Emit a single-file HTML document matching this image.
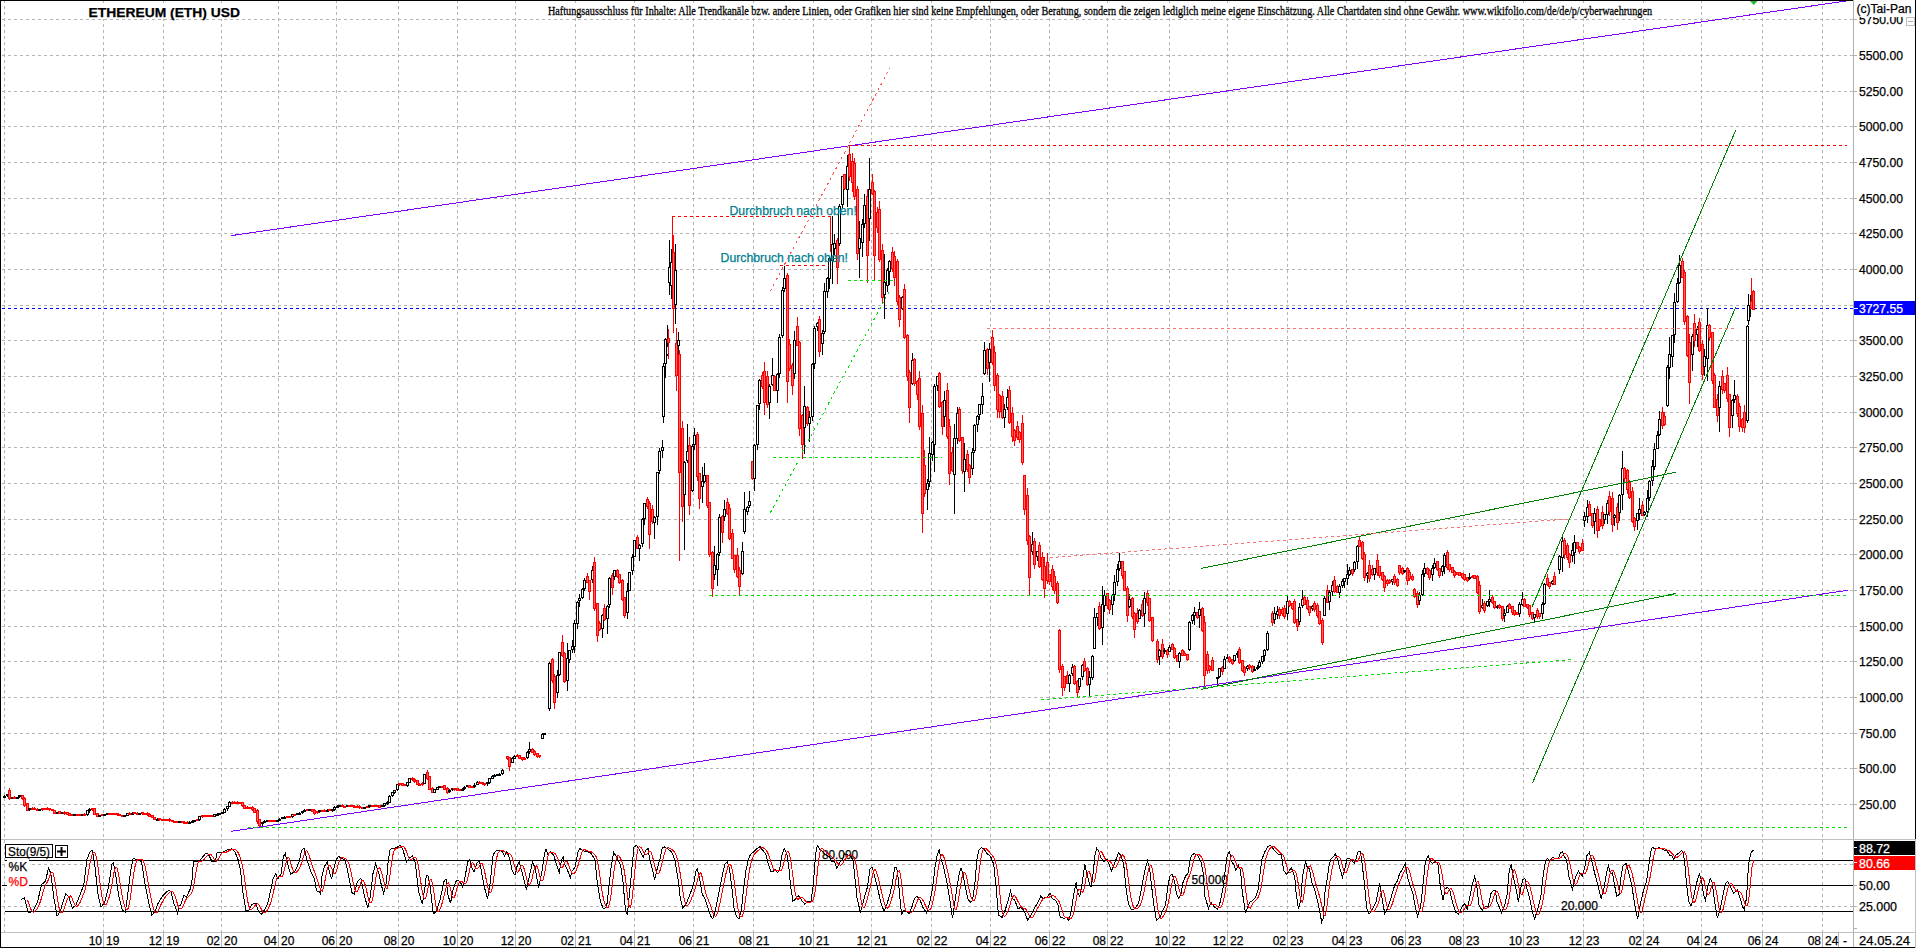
<!DOCTYPE html><html><head><meta charset="utf-8"><title>ETHEREUM (ETH) USD</title><style>html,body{margin:0;padding:0;background:#fff;overflow:hidden}svg{display:block}</style></head><body><svg width="1916" height="948" viewBox="0 0 1916 948"><g shape-rendering="crispEdges"><path d="M2 19.5 H1853M2 55.5 H1853M2 91.5 H1853M2 126.5 H1853M2 162.5 H1853M2 198.5 H1853M2 233.5 H1853M2 269.5 H1853M2 305.5 H1853M2 340.5 H1853M2 376.5 H1853M2 412.5 H1853M2 447.5 H1853M2 483.5 H1853M2 519.5 H1853M2 554.5 H1853M2 590.5 H1853M2 626.5 H1853M2 661.5 H1853M2 697.5 H1853M2 733.5 H1853M2 768.5 H1853M2 804.5 H1853M2 864.5 H1853M2 906.5 H1853" stroke="#b4b4b4" stroke-dasharray="3 3" fill="none"/><path d="M4.5 0 V932M103.5 0 V932M163.5 0 V932M221.5 0 V932M278.5 0 V932M336.5 0 V932M398.5 0 V932M457.5 0 V932M515.5 0 V932M575.5 0 V932M634.5 0 V932M693.5 0 V932M753.5 0 V932M813.5 0 V932M871.5 0 V932M931.5 0 V932M990.5 0 V932M1049.5 0 V932M1107.5 0 V932M1169.5 0 V932M1227.5 0 V932M1287.5 0 V932M1346.5 0 V932M1405.5 0 V932M1463.5 0 V932M1523.5 0 V932M1583.5 0 V932M1643.5 0 V932M1701.5 0 V932M1762.5 0 V932M1822.5 0 V932" stroke="#b4b4b4" stroke-dasharray="3 3" fill="none"/></g>
<path d="M2 308.5H1853" stroke="#00f" stroke-dasharray="3 3" fill="none" shape-rendering="crispEdges"/>
<g shape-rendering="crispEdges" stroke-width="1"><path d="M4.5 795V797" stroke="#000"/><rect x="3.5" y="796.5" width="2" height="1" fill="#fff" stroke="#000"/><path d="M7.5 794V797" stroke="#000"/><rect x="6.5" y="794.5" width="2" height="1" fill="#fff" stroke="#000"/><path d="M9.5 788V800" stroke="#f00"/><rect x="8.5" y="790.5" width="2" height="8" fill="#ff6464" stroke="#f00"/><path d="M12.5 797V799" stroke="#000"/><rect x="11.5" y="797.5" width="2" height="1" fill="#fff" stroke="#000"/><path d="M14.5 796V799" stroke="#f00"/><rect x="13.5" y="797.5" width="2" height="1" fill="#ff6464" stroke="#f00"/><path d="M17.5 797V799" stroke="#000"/><rect x="16.5" y="797.5" width="2" height="1" fill="#fff" stroke="#000"/><path d="M19.5 795V798" stroke="#000"/><rect x="18.5" y="795.5" width="2" height="1" fill="#fff" stroke="#000"/><path d="M22.5 795V800" stroke="#f00"/><rect x="21.5" y="795.5" width="2" height="3" fill="#ff6464" stroke="#f00"/><path d="M24.5 797V807" stroke="#f00"/><rect x="23.5" y="798.5" width="2" height="7" fill="#ff6464" stroke="#f00"/><path d="M27.5 803V811" stroke="#f00"/><rect x="26.5" y="803.5" width="2" height="7" fill="#ff6464" stroke="#f00"/><path d="M29.5 808V811" stroke="#000"/><rect x="28.5" y="808.5" width="2" height="1" fill="#fff" stroke="#000"/><path d="M32.5 807V810" stroke="#f00"/><rect x="31.5" y="808.5" width="2" height="1" fill="#ff6464" stroke="#f00"/><path d="M34.5 807V810" stroke="#f00"/><rect x="33.5" y="808.5" width="2" height="1" fill="#ff6464" stroke="#f00"/><path d="M37.5 808V811" stroke="#f00"/><rect x="36.5" y="809.5" width="2" height="1" fill="#ff6464" stroke="#f00"/><path d="M39.5 809V811" stroke="#000"/><rect x="38.5" y="809.5" width="2" height="1" fill="#fff" stroke="#000"/><path d="M42.5 808V811" stroke="#f00"/><rect x="41.5" y="808.5" width="2" height="1" fill="#ff6464" stroke="#f00"/><path d="M44.5 808V810" stroke="#f00"/><rect x="43.5" y="808.5" width="2" height="1" fill="#ff6464" stroke="#f00"/><path d="M47.5 807V810" stroke="#f00"/><rect x="46.5" y="808.5" width="2" height="1" fill="#ff6464" stroke="#f00"/><path d="M49.5 808V811" stroke="#f00"/><rect x="48.5" y="808.5" width="2" height="1" fill="#ff6464" stroke="#f00"/><path d="M52.5 809V811" stroke="#f00"/><rect x="51.5" y="809.5" width="2" height="1" fill="#ff6464" stroke="#f00"/><path d="M54.5 810V814" stroke="#f00"/><rect x="53.5" y="810.5" width="2" height="3" fill="#ff6464" stroke="#f00"/><path d="M57.5 812V814" stroke="#000"/><rect x="56.5" y="812.5" width="2" height="1" fill="#fff" stroke="#000"/><path d="M59.5 811V814" stroke="#f00"/><rect x="58.5" y="811.5" width="2" height="2" fill="#ff6464" stroke="#f00"/><path d="M62.5 812V814" stroke="#000"/><rect x="61.5" y="812.5" width="2" height="1" fill="#fff" stroke="#000"/><path d="M64.5 811V815" stroke="#f00"/><rect x="63.5" y="812.5" width="2" height="1" fill="#ff6464" stroke="#f00"/><path d="M67.5 812V815" stroke="#f00"/><rect x="66.5" y="812.5" width="2" height="2" fill="#ff6464" stroke="#f00"/><path d="M69.5 813V816" stroke="#f00"/><rect x="68.5" y="813.5" width="2" height="2" fill="#ff6464" stroke="#f00"/><path d="M72.5 814V816" stroke="#f00"/><rect x="71.5" y="814.5" width="2" height="1" fill="#ff6464" stroke="#f00"/><path d="M74.5 814V816" stroke="#000"/><rect x="73.5" y="814.5" width="2" height="1" fill="#fff" stroke="#000"/><path d="M77.5 814V816" stroke="#f00"/><rect x="76.5" y="814.5" width="2" height="1" fill="#ff6464" stroke="#f00"/><path d="M79.5 814V816" stroke="#f00"/><rect x="78.5" y="814.5" width="2" height="1" fill="#ff6464" stroke="#f00"/><path d="M82.5 814V816" stroke="#000"/><rect x="81.5" y="814.5" width="2" height="1" fill="#fff" stroke="#000"/><path d="M84.5 813V816" stroke="#f00"/><rect x="83.5" y="814.5" width="2" height="1" fill="#ff6464" stroke="#f00"/><path d="M87.5 810V816" stroke="#000"/><rect x="86.5" y="810.5" width="2" height="4" fill="#fff" stroke="#000"/><path d="M89.5 808V813" stroke="#000"/><rect x="88.5" y="809.5" width="2" height="1" fill="#fff" stroke="#000"/><path d="M92.5 808V811" stroke="#f00"/><rect x="91.5" y="808.5" width="2" height="1" fill="#ff6464" stroke="#f00"/><path d="M94.5 808V815" stroke="#f00"/><rect x="93.5" y="808.5" width="2" height="6" fill="#ff6464" stroke="#f00"/><path d="M97.5 813V817" stroke="#f00"/><rect x="96.5" y="813.5" width="2" height="3" fill="#ff6464" stroke="#f00"/><path d="M99.5 815V817" stroke="#000"/><rect x="98.5" y="815.5" width="2" height="1" fill="#fff" stroke="#000"/><path d="M102.5 814V816" stroke="#f00"/><rect x="101.5" y="814.5" width="2" height="1" fill="#ff6464" stroke="#f00"/><path d="M104.5 814V816" stroke="#000"/><rect x="103.5" y="814.5" width="2" height="1" fill="#fff" stroke="#000"/><path d="M107.5 813V815" stroke="#000"/><rect x="106.5" y="813.5" width="2" height="1" fill="#fff" stroke="#000"/><path d="M109.5 813V814" stroke="#f00"/><rect x="108.5" y="813.5" width="2" height="1" fill="#ff6464" stroke="#f00"/><path d="M112.5 813V814" stroke="#f00"/><rect x="111.5" y="813.5" width="2" height="1" fill="#ff6464" stroke="#f00"/><path d="M114.5 813V815" stroke="#f00"/><rect x="113.5" y="813.5" width="2" height="1" fill="#ff6464" stroke="#f00"/><path d="M117.5 813V816" stroke="#f00"/><rect x="116.5" y="813.5" width="2" height="1" fill="#ff6464" stroke="#f00"/><path d="M119.5 814V816" stroke="#f00"/><rect x="118.5" y="814.5" width="2" height="1" fill="#ff6464" stroke="#f00"/><path d="M122.5 815V817" stroke="#f00"/><rect x="121.5" y="815.5" width="2" height="1" fill="#ff6464" stroke="#f00"/><path d="M124.5 815V817" stroke="#000"/><rect x="123.5" y="815.5" width="2" height="1" fill="#fff" stroke="#000"/><path d="M127.5 813V816" stroke="#000"/><rect x="126.5" y="813.5" width="2" height="2" fill="#fff" stroke="#000"/><path d="M129.5 812V815" stroke="#f00"/><rect x="128.5" y="813.5" width="2" height="1" fill="#ff6464" stroke="#f00"/><path d="M132.5 812V814" stroke="#000"/><rect x="131.5" y="813.5" width="2" height="1" fill="#fff" stroke="#000"/><path d="M134.5 812V814" stroke="#f00"/><rect x="133.5" y="812.5" width="2" height="1" fill="#ff6464" stroke="#f00"/><path d="M137.5 812V815" stroke="#f00"/><rect x="136.5" y="813.5" width="2" height="1" fill="#ff6464" stroke="#f00"/><path d="M139.5 813V814" stroke="#000"/><rect x="138.5" y="813.5" width="2" height="1" fill="#fff" stroke="#000"/><path d="M142.5 812V815" stroke="#f00"/><rect x="141.5" y="812.5" width="2" height="1" fill="#ff6464" stroke="#f00"/><path d="M144.5 813V815" stroke="#f00"/><rect x="143.5" y="813.5" width="2" height="1" fill="#ff6464" stroke="#f00"/><path d="M147.5 812V816" stroke="#f00"/><rect x="146.5" y="813.5" width="2" height="1" fill="#ff6464" stroke="#f00"/><path d="M149.5 813V817" stroke="#f00"/><rect x="148.5" y="814.5" width="2" height="2" fill="#ff6464" stroke="#f00"/><path d="M152.5 815V818" stroke="#f00"/><rect x="151.5" y="815.5" width="2" height="2" fill="#ff6464" stroke="#f00"/><path d="M154.5 817V820" stroke="#f00"/><rect x="153.5" y="817.5" width="2" height="2" fill="#ff6464" stroke="#f00"/><path d="M157.5 818V820" stroke="#000"/><rect x="156.5" y="819.5" width="2" height="1" fill="#fff" stroke="#000"/><path d="M159.5 818V821" stroke="#f00"/><rect x="158.5" y="818.5" width="2" height="1" fill="#ff6464" stroke="#f00"/><path d="M162.5 819V820" stroke="#f00"/><rect x="161.5" y="819.5" width="2" height="1" fill="#ff6464" stroke="#f00"/><path d="M164.5 819V820" stroke="#f00"/><rect x="163.5" y="819.5" width="2" height="1" fill="#ff6464" stroke="#f00"/><path d="M167.5 819V821" stroke="#f00"/><rect x="166.5" y="819.5" width="2" height="1" fill="#ff6464" stroke="#f00"/><path d="M169.5 818V822" stroke="#f00"/><rect x="168.5" y="819.5" width="2" height="1" fill="#ff6464" stroke="#f00"/><path d="M172.5 820V822" stroke="#f00"/><rect x="171.5" y="820.5" width="2" height="1" fill="#ff6464" stroke="#f00"/><path d="M174.5 821V823" stroke="#f00"/><rect x="173.5" y="821.5" width="2" height="1" fill="#ff6464" stroke="#f00"/><path d="M177.5 821V823" stroke="#f00"/><rect x="176.5" y="821.5" width="2" height="1" fill="#ff6464" stroke="#f00"/><path d="M179.5 821V823" stroke="#000"/><rect x="178.5" y="821.5" width="2" height="1" fill="#fff" stroke="#000"/><path d="M182.5 821V823" stroke="#f00"/><rect x="181.5" y="821.5" width="2" height="1" fill="#ff6464" stroke="#f00"/><path d="M184.5 821V823" stroke="#f00"/><rect x="183.5" y="822.5" width="2" height="1" fill="#ff6464" stroke="#f00"/><path d="M187.5 821V824" stroke="#f00"/><rect x="186.5" y="822.5" width="2" height="1" fill="#ff6464" stroke="#f00"/><path d="M189.5 821V823" stroke="#000"/><rect x="188.5" y="822.5" width="2" height="1" fill="#fff" stroke="#000"/><path d="M192.5 820V823" stroke="#000"/><rect x="191.5" y="821.5" width="2" height="1" fill="#fff" stroke="#000"/><path d="M194.5 820V822" stroke="#000"/><rect x="193.5" y="820.5" width="2" height="1" fill="#fff" stroke="#000"/><path d="M197.5 819V821" stroke="#f00"/><rect x="196.5" y="819.5" width="2" height="1" fill="#ff6464" stroke="#f00"/><path d="M199.5 816V821" stroke="#000"/><rect x="198.5" y="816.5" width="2" height="3" fill="#fff" stroke="#000"/><path d="M202.5 815V818" stroke="#f00"/><rect x="201.5" y="815.5" width="2" height="1" fill="#ff6464" stroke="#f00"/><path d="M204.5 815V817" stroke="#f00"/><rect x="203.5" y="815.5" width="2" height="1" fill="#ff6464" stroke="#f00"/><path d="M207.5 815V817" stroke="#f00"/><rect x="206.5" y="815.5" width="2" height="1" fill="#ff6464" stroke="#f00"/><path d="M209.5 815V817" stroke="#f00"/><rect x="208.5" y="815.5" width="2" height="1" fill="#ff6464" stroke="#f00"/><path d="M212.5 815V817" stroke="#f00"/><rect x="211.5" y="815.5" width="2" height="1" fill="#ff6464" stroke="#f00"/><path d="M214.5 814V817" stroke="#000"/><rect x="213.5" y="814.5" width="2" height="2" fill="#fff" stroke="#000"/><path d="M217.5 813V816" stroke="#000"/><rect x="216.5" y="814.5" width="2" height="1" fill="#fff" stroke="#000"/><path d="M219.5 813V815" stroke="#000"/><rect x="218.5" y="813.5" width="2" height="1" fill="#fff" stroke="#000"/><path d="M222.5 812V814" stroke="#000"/><rect x="221.5" y="812.5" width="2" height="1" fill="#fff" stroke="#000"/><path d="M224.5 808V813" stroke="#000"/><rect x="223.5" y="809.5" width="2" height="3" fill="#fff" stroke="#000"/><path d="M227.5 806V811" stroke="#000"/><rect x="226.5" y="806.5" width="2" height="2" fill="#fff" stroke="#000"/><path d="M229.5 801V807" stroke="#000"/><rect x="228.5" y="802.5" width="2" height="4" fill="#fff" stroke="#000"/><path d="M232.5 801V804" stroke="#f00"/><rect x="231.5" y="802.5" width="2" height="1" fill="#ff6464" stroke="#f00"/><path d="M234.5 801V803" stroke="#f00"/><rect x="233.5" y="802.5" width="2" height="1" fill="#ff6464" stroke="#f00"/><path d="M237.5 801V804" stroke="#f00"/><rect x="236.5" y="802.5" width="2" height="1" fill="#ff6464" stroke="#f00"/><path d="M239.5 802V804" stroke="#f00"/><rect x="238.5" y="802.5" width="2" height="1" fill="#ff6464" stroke="#f00"/><path d="M242.5 802V807" stroke="#f00"/><rect x="241.5" y="802.5" width="2" height="3" fill="#ff6464" stroke="#f00"/><path d="M244.5 805V809" stroke="#f00"/><rect x="243.5" y="805.5" width="2" height="3" fill="#ff6464" stroke="#f00"/><path d="M247.5 806V809" stroke="#f00"/><rect x="246.5" y="807.5" width="2" height="1" fill="#ff6464" stroke="#f00"/><path d="M249.5 807V809" stroke="#f00"/><rect x="248.5" y="807.5" width="2" height="1" fill="#ff6464" stroke="#f00"/><path d="M252.5 806V811" stroke="#f00"/><rect x="251.5" y="807.5" width="2" height="2" fill="#ff6464" stroke="#f00"/><path d="M254.5 808V813" stroke="#f00"/><rect x="253.5" y="808.5" width="2" height="4" fill="#ff6464" stroke="#f00"/><path d="M257.5 809V824" stroke="#f00"/><rect x="256.5" y="810.5" width="2" height="11" fill="#ff6464" stroke="#f00"/><path d="M259.5 819V827" stroke="#f00"/><rect x="258.5" y="819.5" width="2" height="6" fill="#ff6464" stroke="#f00"/><path d="M262.5 822V826" stroke="#000"/><rect x="261.5" y="822.5" width="2" height="1" fill="#fff" stroke="#000"/><path d="M264.5 820V823" stroke="#000"/><rect x="263.5" y="821.5" width="2" height="1" fill="#fff" stroke="#000"/><path d="M267.5 820V822" stroke="#000"/><rect x="266.5" y="820.5" width="2" height="1" fill="#fff" stroke="#000"/><path d="M269.5 820V822" stroke="#f00"/><rect x="268.5" y="820.5" width="2" height="1" fill="#ff6464" stroke="#f00"/><path d="M272.5 820V822" stroke="#f00"/><rect x="271.5" y="820.5" width="2" height="1" fill="#ff6464" stroke="#f00"/><path d="M274.5 820V822" stroke="#f00"/><rect x="273.5" y="820.5" width="2" height="1" fill="#ff6464" stroke="#f00"/><path d="M277.5 820V822" stroke="#000"/><rect x="276.5" y="820.5" width="2" height="1" fill="#fff" stroke="#000"/><path d="M279.5 818V821" stroke="#000"/><rect x="278.5" y="819.5" width="2" height="1" fill="#fff" stroke="#000"/><path d="M282.5 817V819" stroke="#000"/><rect x="281.5" y="817.5" width="2" height="1" fill="#fff" stroke="#000"/><path d="M284.5 816V818" stroke="#000"/><rect x="283.5" y="817.5" width="2" height="1" fill="#fff" stroke="#000"/><path d="M287.5 816V818" stroke="#f00"/><rect x="286.5" y="816.5" width="2" height="1" fill="#ff6464" stroke="#f00"/><path d="M289.5 816V818" stroke="#f00"/><rect x="288.5" y="816.5" width="2" height="1" fill="#ff6464" stroke="#f00"/><path d="M292.5 814V818" stroke="#000"/><rect x="291.5" y="814.5" width="2" height="2" fill="#fff" stroke="#000"/><path d="M294.5 814V816" stroke="#f00"/><rect x="293.5" y="814.5" width="2" height="1" fill="#ff6464" stroke="#f00"/><path d="M297.5 813V815" stroke="#000"/><rect x="296.5" y="813.5" width="2" height="1" fill="#fff" stroke="#000"/><path d="M299.5 812V814" stroke="#000"/><rect x="298.5" y="813.5" width="2" height="1" fill="#fff" stroke="#000"/><path d="M302.5 811V814" stroke="#000"/><rect x="301.5" y="811.5" width="2" height="1" fill="#fff" stroke="#000"/><path d="M304.5 809V812" stroke="#000"/><rect x="303.5" y="810.5" width="2" height="1" fill="#fff" stroke="#000"/><path d="M307.5 809V811" stroke="#f00"/><rect x="306.5" y="809.5" width="2" height="1" fill="#ff6464" stroke="#f00"/><path d="M309.5 809V811" stroke="#000"/><rect x="308.5" y="809.5" width="2" height="1" fill="#fff" stroke="#000"/><path d="M312.5 809V812" stroke="#f00"/><rect x="311.5" y="809.5" width="2" height="2" fill="#ff6464" stroke="#f00"/><path d="M314.5 809V815" stroke="#f00"/><rect x="313.5" y="810.5" width="2" height="3" fill="#ff6464" stroke="#f00"/><path d="M317.5 811V814" stroke="#f00"/><rect x="316.5" y="811.5" width="2" height="1" fill="#ff6464" stroke="#f00"/><path d="M319.5 810V813" stroke="#000"/><rect x="318.5" y="810.5" width="2" height="1" fill="#fff" stroke="#000"/><path d="M322.5 810V812" stroke="#f00"/><rect x="321.5" y="810.5" width="2" height="1" fill="#ff6464" stroke="#f00"/><path d="M324.5 809V812" stroke="#f00"/><rect x="323.5" y="810.5" width="2" height="1" fill="#ff6464" stroke="#f00"/><path d="M327.5 809V812" stroke="#000"/><rect x="326.5" y="810.5" width="2" height="1" fill="#fff" stroke="#000"/><path d="M329.5 809V811" stroke="#f00"/><rect x="328.5" y="809.5" width="2" height="1" fill="#ff6464" stroke="#f00"/><path d="M332.5 809V812" stroke="#000"/><rect x="331.5" y="809.5" width="2" height="1" fill="#fff" stroke="#000"/><path d="M334.5 806V811" stroke="#000"/><rect x="333.5" y="807.5" width="2" height="2" fill="#fff" stroke="#000"/><path d="M337.5 805V808" stroke="#000"/><rect x="336.5" y="806.5" width="2" height="1" fill="#fff" stroke="#000"/><path d="M339.5 805V807" stroke="#000"/><rect x="338.5" y="805.5" width="2" height="1" fill="#fff" stroke="#000"/><path d="M342.5 804V807" stroke="#f00"/><rect x="341.5" y="805.5" width="2" height="1" fill="#ff6464" stroke="#f00"/><path d="M344.5 806V807" stroke="#f00"/><rect x="343.5" y="806.5" width="2" height="1" fill="#ff6464" stroke="#f00"/><path d="M347.5 805V807" stroke="#000"/><rect x="346.5" y="805.5" width="2" height="1" fill="#fff" stroke="#000"/><path d="M349.5 805V807" stroke="#f00"/><rect x="348.5" y="805.5" width="2" height="1" fill="#ff6464" stroke="#f00"/><path d="M352.5 805V807" stroke="#f00"/><rect x="351.5" y="805.5" width="2" height="1" fill="#ff6464" stroke="#f00"/><path d="M354.5 805V807" stroke="#f00"/><rect x="353.5" y="806.5" width="2" height="1" fill="#ff6464" stroke="#f00"/><path d="M357.5 805V808" stroke="#f00"/><rect x="356.5" y="806.5" width="2" height="1" fill="#ff6464" stroke="#f00"/><path d="M359.5 805V809" stroke="#f00"/><rect x="358.5" y="806.5" width="2" height="1" fill="#ff6464" stroke="#f00"/><path d="M362.5 807V809" stroke="#f00"/><rect x="361.5" y="807.5" width="2" height="1" fill="#ff6464" stroke="#f00"/><path d="M364.5 807V809" stroke="#000"/><rect x="363.5" y="807.5" width="2" height="1" fill="#fff" stroke="#000"/><path d="M367.5 806V808" stroke="#f00"/><rect x="366.5" y="806.5" width="2" height="1" fill="#ff6464" stroke="#f00"/><path d="M369.5 805V808" stroke="#000"/><rect x="368.5" y="805.5" width="2" height="1" fill="#fff" stroke="#000"/><path d="M372.5 805V807" stroke="#f00"/><rect x="371.5" y="805.5" width="2" height="1" fill="#ff6464" stroke="#f00"/><path d="M374.5 805V807" stroke="#f00"/><rect x="373.5" y="805.5" width="2" height="1" fill="#ff6464" stroke="#f00"/><path d="M377.5 805V807" stroke="#f00"/><rect x="376.5" y="805.5" width="2" height="1" fill="#ff6464" stroke="#f00"/><path d="M379.5 805V808" stroke="#f00"/><rect x="378.5" y="805.5" width="2" height="2" fill="#ff6464" stroke="#f00"/><path d="M382.5 805V807" stroke="#000"/><rect x="381.5" y="805.5" width="2" height="1" fill="#fff" stroke="#000"/><path d="M384.5 803V807" stroke="#000"/><rect x="383.5" y="803.5" width="2" height="2" fill="#fff" stroke="#000"/><path d="M387.5 801V805" stroke="#000"/><rect x="386.5" y="802.5" width="2" height="1" fill="#fff" stroke="#000"/><path d="M389.5 795V803" stroke="#000"/><rect x="388.5" y="796.5" width="2" height="6" fill="#fff" stroke="#000"/><path d="M392.5 792V797" stroke="#000"/><rect x="391.5" y="792.5" width="2" height="3" fill="#fff" stroke="#000"/><path d="M394.5 790V794" stroke="#000"/><rect x="393.5" y="790.5" width="2" height="2" fill="#fff" stroke="#000"/><path d="M397.5 784V791" stroke="#000"/><rect x="396.5" y="784.5" width="2" height="5" fill="#fff" stroke="#000"/><path d="M399.5 783V786" stroke="#f00"/><rect x="398.5" y="783.5" width="2" height="1" fill="#ff6464" stroke="#f00"/><path d="M402.5 783V786" stroke="#f00"/><rect x="401.5" y="783.5" width="2" height="2" fill="#ff6464" stroke="#f00"/><path d="M404.5 784V786" stroke="#f00"/><rect x="403.5" y="784.5" width="2" height="1" fill="#ff6464" stroke="#f00"/><path d="M407.5 782V787" stroke="#000"/><rect x="406.5" y="782.5" width="2" height="3" fill="#fff" stroke="#000"/><path d="M409.5 778V783" stroke="#000"/><rect x="408.5" y="778.5" width="2" height="4" fill="#fff" stroke="#000"/><path d="M412.5 777V781" stroke="#f00"/><rect x="411.5" y="778.5" width="2" height="1" fill="#ff6464" stroke="#f00"/><path d="M414.5 778V783" stroke="#f00"/><rect x="413.5" y="779.5" width="2" height="2" fill="#ff6464" stroke="#f00"/><path d="M417.5 780V785" stroke="#f00"/><rect x="416.5" y="780.5" width="2" height="4" fill="#ff6464" stroke="#f00"/><path d="M419.5 783V786" stroke="#f00"/><rect x="418.5" y="784.5" width="2" height="1" fill="#ff6464" stroke="#f00"/><path d="M422.5 782V786" stroke="#f00"/><rect x="421.5" y="783.5" width="2" height="1" fill="#ff6464" stroke="#f00"/><path d="M424.5 774V784" stroke="#000"/><rect x="423.5" y="774.5" width="2" height="9" fill="#fff" stroke="#000"/><path d="M427.5 770V780" stroke="#f00"/><rect x="426.5" y="772.5" width="2" height="6" fill="#ff6464" stroke="#f00"/><path d="M429.5 776V790" stroke="#f00"/><rect x="428.5" y="776.5" width="2" height="13" fill="#ff6464" stroke="#f00"/><path d="M432.5 787V793" stroke="#f00"/><rect x="431.5" y="788.5" width="2" height="4" fill="#ff6464" stroke="#f00"/><path d="M434.5 789V793" stroke="#000"/><rect x="433.5" y="789.5" width="2" height="3" fill="#fff" stroke="#000"/><path d="M437.5 787V790" stroke="#000"/><rect x="436.5" y="787.5" width="2" height="2" fill="#fff" stroke="#000"/><path d="M439.5 786V788" stroke="#000"/><rect x="438.5" y="786.5" width="2" height="1" fill="#fff" stroke="#000"/><path d="M442.5 786V788" stroke="#f00"/><rect x="441.5" y="786.5" width="2" height="1" fill="#ff6464" stroke="#f00"/><path d="M444.5 785V790" stroke="#f00"/><rect x="443.5" y="785.5" width="2" height="4" fill="#ff6464" stroke="#f00"/><path d="M447.5 787V794" stroke="#f00"/><rect x="446.5" y="788.5" width="2" height="4" fill="#ff6464" stroke="#f00"/><path d="M449.5 789V793" stroke="#000"/><rect x="448.5" y="790.5" width="2" height="1" fill="#fff" stroke="#000"/><path d="M452.5 788V791" stroke="#000"/><rect x="451.5" y="788.5" width="2" height="1" fill="#fff" stroke="#000"/><path d="M454.5 788V791" stroke="#f00"/><rect x="453.5" y="788.5" width="2" height="1" fill="#ff6464" stroke="#f00"/><path d="M457.5 788V791" stroke="#f00"/><rect x="456.5" y="788.5" width="2" height="2" fill="#ff6464" stroke="#f00"/><path d="M459.5 789V791" stroke="#f00"/><rect x="458.5" y="789.5" width="2" height="1" fill="#ff6464" stroke="#f00"/><path d="M462.5 788V791" stroke="#000"/><rect x="461.5" y="789.5" width="2" height="1" fill="#fff" stroke="#000"/><path d="M464.5 786V790" stroke="#000"/><rect x="463.5" y="787.5" width="2" height="1" fill="#fff" stroke="#000"/><path d="M467.5 785V787" stroke="#000"/><rect x="466.5" y="785.5" width="2" height="1" fill="#fff" stroke="#000"/><path d="M469.5 785V788" stroke="#f00"/><rect x="468.5" y="785.5" width="2" height="2" fill="#ff6464" stroke="#f00"/><path d="M472.5 786V788" stroke="#f00"/><rect x="471.5" y="786.5" width="2" height="1" fill="#ff6464" stroke="#f00"/><path d="M474.5 783V788" stroke="#000"/><rect x="473.5" y="785.5" width="2" height="1" fill="#fff" stroke="#000"/><path d="M477.5 781V785" stroke="#000"/><rect x="476.5" y="782.5" width="2" height="2" fill="#fff" stroke="#000"/><path d="M479.5 781V784" stroke="#f00"/><rect x="478.5" y="782.5" width="2" height="1" fill="#ff6464" stroke="#f00"/><path d="M482.5 782V785" stroke="#f00"/><rect x="481.5" y="782.5" width="2" height="1" fill="#ff6464" stroke="#f00"/><path d="M484.5 783V786" stroke="#f00"/><rect x="483.5" y="783.5" width="2" height="1" fill="#ff6464" stroke="#f00"/><path d="M487.5 782V786" stroke="#000"/><rect x="486.5" y="782.5" width="2" height="1" fill="#fff" stroke="#000"/><path d="M489.5 778V784" stroke="#000"/><rect x="488.5" y="778.5" width="2" height="4" fill="#fff" stroke="#000"/><path d="M492.5 775V779" stroke="#000"/><rect x="491.5" y="776.5" width="2" height="2" fill="#fff" stroke="#000"/><path d="M494.5 774V777" stroke="#000"/><rect x="493.5" y="775.5" width="2" height="1" fill="#fff" stroke="#000"/><path d="M497.5 774V776" stroke="#000"/><rect x="496.5" y="774.5" width="2" height="1" fill="#fff" stroke="#000"/><path d="M499.5 773V776" stroke="#000"/><rect x="498.5" y="774.5" width="2" height="1" fill="#fff" stroke="#000"/><path d="M502.5 769V775" stroke="#000"/><rect x="501.5" y="770.5" width="2" height="3" fill="#fff" stroke="#000"/><path d="M507.5 756V760" stroke="#f00"/><rect x="506.5" y="756.5" width="2" height="2" fill="#ff6464" stroke="#f00"/><path d="M509.5 757V771" stroke="#f00"/><rect x="508.5" y="757.5" width="2" height="9" fill="#ff6464" stroke="#f00"/><path d="M512.5 757V763" stroke="#000"/><rect x="511.5" y="758.5" width="2" height="4" fill="#fff" stroke="#000"/><path d="M514.5 755V759" stroke="#000"/><rect x="513.5" y="756.5" width="2" height="2" fill="#fff" stroke="#000"/><path d="M517.5 754V757" stroke="#f00"/><rect x="516.5" y="755.5" width="2" height="1" fill="#ff6464" stroke="#f00"/><path d="M519.5 755V759" stroke="#f00"/><rect x="518.5" y="755.5" width="2" height="3" fill="#ff6464" stroke="#f00"/><path d="M522.5 757V761" stroke="#f00"/><rect x="521.5" y="757.5" width="2" height="2" fill="#ff6464" stroke="#f00"/><path d="M524.5 757V760" stroke="#f00"/><rect x="523.5" y="758.5" width="2" height="1" fill="#ff6464" stroke="#f00"/><path d="M527.5 751V759" stroke="#000"/><rect x="526.5" y="752.5" width="2" height="5" fill="#fff" stroke="#000"/><path d="M529.5 742V754" stroke="#000"/><rect x="528.5" y="749.5" width="2" height="2" fill="#fff" stroke="#000"/><path d="M532.5 748V753" stroke="#f00"/><rect x="531.5" y="749.5" width="2" height="3" fill="#ff6464" stroke="#f00"/><path d="M534.5 750V756" stroke="#f00"/><rect x="533.5" y="751.5" width="2" height="3" fill="#ff6464" stroke="#f00"/><path d="M537.5 753V758" stroke="#f00"/><rect x="536.5" y="753.5" width="2" height="3" fill="#ff6464" stroke="#f00"/><path d="M539.5 755V758" stroke="#f00"/><rect x="538.5" y="755.5" width="2" height="1" fill="#ff6464" stroke="#f00"/><path d="M542.5 733V739" stroke="#000"/><rect x="541.5" y="734.5" width="2" height="4" fill="#fff" stroke="#000"/><path d="M544.5 733V735" stroke="#000"/><rect x="543.5" y="733.5" width="2" height="1" fill="#fff" stroke="#000"/><path d="M549.5 662V711" stroke="#000"/><rect x="548.5" y="663.5" width="2" height="45" fill="#fff" stroke="#000"/><path d="M552.5 658V683" stroke="#f00"/><rect x="551.5" y="659.5" width="2" height="21" fill="#ff6464" stroke="#f00"/><path d="M554.5 674V709" stroke="#f00"/><rect x="553.5" y="676.5" width="2" height="26" fill="#ff6464" stroke="#f00"/><path d="M557.5 670V698" stroke="#000"/><rect x="556.5" y="675.5" width="2" height="17" fill="#fff" stroke="#000"/><path d="M559.5 652V676" stroke="#000"/><rect x="558.5" y="652.5" width="2" height="22" fill="#fff" stroke="#000"/><path d="M562.5 635V657" stroke="#f00"/><rect x="561.5" y="642.5" width="2" height="13" fill="#ff6464" stroke="#f00"/><path d="M564.5 652V683" stroke="#f00"/><rect x="563.5" y="653.5" width="2" height="28" fill="#ff6464" stroke="#f00"/><path d="M567.5 643V691" stroke="#000"/><rect x="566.5" y="658.5" width="2" height="22" fill="#fff" stroke="#000"/><path d="M569.5 650V663" stroke="#000"/><rect x="568.5" y="650.5" width="2" height="9" fill="#fff" stroke="#000"/><path d="M572.5 640V653" stroke="#000"/><rect x="571.5" y="646.5" width="2" height="3" fill="#fff" stroke="#000"/><path d="M574.5 620V653" stroke="#000"/><rect x="573.5" y="623.5" width="2" height="23" fill="#fff" stroke="#000"/><path d="M577.5 601V629" stroke="#000"/><rect x="576.5" y="602.5" width="2" height="21" fill="#fff" stroke="#000"/><path d="M579.5 594V607" stroke="#000"/><rect x="578.5" y="598.5" width="2" height="2" fill="#fff" stroke="#000"/><path d="M582.5 588V599" stroke="#000"/><rect x="581.5" y="589.5" width="2" height="8" fill="#fff" stroke="#000"/><path d="M584.5 578V591" stroke="#000"/><rect x="583.5" y="580.5" width="2" height="8" fill="#fff" stroke="#000"/><path d="M587.5 573V583" stroke="#f00"/><rect x="586.5" y="576.5" width="2" height="6" fill="#ff6464" stroke="#f00"/><path d="M589.5 580V600" stroke="#f00"/><rect x="588.5" y="580.5" width="2" height="11" fill="#ff6464" stroke="#f00"/><path d="M592.5 566V583" stroke="#000"/><rect x="591.5" y="570.5" width="2" height="9" fill="#fff" stroke="#000"/><path d="M594.5 557V611" stroke="#f00"/><rect x="593.5" y="562.5" width="2" height="46" fill="#ff6464" stroke="#f00"/><path d="M597.5 603V642" stroke="#f00"/><rect x="596.5" y="603.5" width="2" height="32" fill="#ff6464" stroke="#f00"/><path d="M599.5 621V631" stroke="#f00"/><rect x="598.5" y="623.5" width="2" height="6" fill="#ff6464" stroke="#f00"/><path d="M602.5 614V638" stroke="#000"/><rect x="601.5" y="615.5" width="2" height="13" fill="#fff" stroke="#000"/><path d="M604.5 604V621" stroke="#f00"/><rect x="603.5" y="608.5" width="2" height="11" fill="#ff6464" stroke="#f00"/><path d="M607.5 605V634" stroke="#000"/><rect x="606.5" y="606.5" width="2" height="12" fill="#fff" stroke="#000"/><path d="M609.5 577V608" stroke="#000"/><rect x="608.5" y="578.5" width="2" height="26" fill="#fff" stroke="#000"/><path d="M612.5 573V595" stroke="#f00"/><rect x="611.5" y="575.5" width="2" height="12" fill="#ff6464" stroke="#f00"/><path d="M614.5 570V580" stroke="#000"/><rect x="613.5" y="570.5" width="2" height="6" fill="#fff" stroke="#000"/><path d="M617.5 569V578" stroke="#f00"/><rect x="616.5" y="570.5" width="2" height="6" fill="#ff6464" stroke="#f00"/><path d="M619.5 574V584" stroke="#f00"/><rect x="618.5" y="574.5" width="2" height="8" fill="#ff6464" stroke="#f00"/><path d="M622.5 579V601" stroke="#f00"/><rect x="621.5" y="580.5" width="2" height="19" fill="#ff6464" stroke="#f00"/><path d="M624.5 597V618" stroke="#f00"/><rect x="623.5" y="597.5" width="2" height="18" fill="#ff6464" stroke="#f00"/><path d="M627.5 583V619" stroke="#000"/><rect x="626.5" y="591.5" width="2" height="21" fill="#fff" stroke="#000"/><path d="M629.5 572V591" stroke="#000"/><rect x="628.5" y="572.5" width="2" height="18" fill="#fff" stroke="#000"/><path d="M632.5 554V575" stroke="#000"/><rect x="631.5" y="557.5" width="2" height="13" fill="#fff" stroke="#000"/><path d="M634.5 540V557" stroke="#000"/><rect x="633.5" y="540.5" width="2" height="16" fill="#fff" stroke="#000"/><path d="M637.5 535V549" stroke="#f00"/><rect x="636.5" y="537.5" width="2" height="11" fill="#ff6464" stroke="#f00"/><path d="M639.5 544V561" stroke="#000"/><rect x="638.5" y="545.5" width="2" height="3" fill="#fff" stroke="#000"/><path d="M642.5 518V547" stroke="#000"/><rect x="641.5" y="519.5" width="2" height="24" fill="#fff" stroke="#000"/><path d="M644.5 503V525" stroke="#000"/><rect x="643.5" y="503.5" width="2" height="15" fill="#fff" stroke="#000"/><path d="M647.5 497V509" stroke="#f00"/><rect x="646.5" y="499.5" width="2" height="7" fill="#ff6464" stroke="#f00"/><path d="M649.5 501V549" stroke="#f00"/><rect x="648.5" y="503.5" width="2" height="31" fill="#ff6464" stroke="#f00"/><path d="M652.5 505V524" stroke="#f00"/><rect x="651.5" y="509.5" width="2" height="12" fill="#ff6464" stroke="#f00"/><path d="M654.5 516V539" stroke="#000"/><rect x="653.5" y="517.5" width="2" height="5" fill="#fff" stroke="#000"/><path d="M657.5 472V525" stroke="#000"/><rect x="656.5" y="472.5" width="2" height="44" fill="#fff" stroke="#000"/><path d="M659.5 448V474" stroke="#000"/><rect x="658.5" y="451.5" width="2" height="19" fill="#fff" stroke="#000"/><path d="M662.5 440V458" stroke="#000"/><rect x="661.5" y="447.5" width="2" height="3" fill="#fff" stroke="#000"/><path d="M663.5 363V423" stroke="#000"/><rect x="662.5" y="366.5" width="2" height="50" fill="#fff" stroke="#000"/><path d="M665.5 338V378" stroke="#000"/><rect x="664.5" y="339.5" width="2" height="24" fill="#fff" stroke="#000"/><path d="M667.5 325V356" stroke="#000"/><rect x="666.5" y="346.5" width="2" height="8" fill="#fff" stroke="#000"/><path d="M668.5 329V359" stroke="#f00"/><rect x="667.5" y="338.5" width="2" height="4" fill="#ff6464" stroke="#f00"/><path d="M669.5 240V295" stroke="#000"/><rect x="668.5" y="267.5" width="2" height="15" fill="#fff" stroke="#000"/><path d="M671.5 249V299" stroke="#000"/><rect x="670.5" y="262.5" width="2" height="23" fill="#fff" stroke="#000"/><path d="M673.5 235V333" stroke="#f00"/><rect x="672.5" y="252.5" width="2" height="56" fill="#ff6464" stroke="#f00"/><path d="M675.5 244V324" stroke="#000"/><rect x="674.5" y="270.5" width="2" height="34" fill="#fff" stroke="#000"/><path d="M676.5 328V391" stroke="#f00"/><rect x="675.5" y="343.5" width="2" height="32" fill="#ff6464" stroke="#f00"/><path d="M678.5 332V354" stroke="#000"/><rect x="677.5" y="340.5" width="2" height="5" fill="#fff" stroke="#000"/><path d="M679.5 350V561" stroke="#f00"/><rect x="678.5" y="354.5" width="2" height="118" fill="#ff6464" stroke="#f00"/><path d="M682.5 421V522" stroke="#f00"/><rect x="681.5" y="428.5" width="2" height="78" fill="#ff6464" stroke="#f00"/><path d="M684.5 461V550" stroke="#000"/><rect x="683.5" y="462.5" width="2" height="32" fill="#fff" stroke="#000"/><path d="M687.5 424V463" stroke="#000"/><rect x="686.5" y="451.5" width="2" height="9" fill="#fff" stroke="#000"/><path d="M689.5 437V515" stroke="#f00"/><rect x="688.5" y="445.5" width="2" height="60" fill="#ff6464" stroke="#f00"/><path d="M692.5 444V492" stroke="#000"/><rect x="691.5" y="446.5" width="2" height="44" fill="#fff" stroke="#000"/><path d="M694.5 428V450" stroke="#000"/><rect x="693.5" y="435.5" width="2" height="9" fill="#fff" stroke="#000"/><path d="M697.5 432V481" stroke="#f00"/><rect x="696.5" y="434.5" width="2" height="42" fill="#ff6464" stroke="#f00"/><path d="M699.5 473V509" stroke="#f00"/><rect x="698.5" y="473.5" width="2" height="25" fill="#ff6464" stroke="#f00"/><path d="M702.5 467V503" stroke="#000"/><rect x="701.5" y="481.5" width="2" height="5" fill="#fff" stroke="#000"/><path d="M704.5 463V483" stroke="#000"/><rect x="703.5" y="475.5" width="2" height="6" fill="#fff" stroke="#000"/><path d="M707.5 475V508" stroke="#f00"/><rect x="706.5" y="475.5" width="2" height="30" fill="#ff6464" stroke="#f00"/><path d="M709.5 502V557" stroke="#f00"/><rect x="708.5" y="502.5" width="2" height="52" fill="#ff6464" stroke="#f00"/><path d="M712.5 551V597" stroke="#f00"/><rect x="711.5" y="552.5" width="2" height="36" fill="#ff6464" stroke="#f00"/><path d="M714.5 546V580" stroke="#000"/><rect x="713.5" y="565.5" width="2" height="9" fill="#fff" stroke="#000"/><path d="M717.5 553V586" stroke="#000"/><rect x="716.5" y="554.5" width="2" height="15" fill="#fff" stroke="#000"/><path d="M719.5 514V556" stroke="#000"/><rect x="718.5" y="517.5" width="2" height="35" fill="#fff" stroke="#000"/><path d="M722.5 515V543" stroke="#f00"/><rect x="721.5" y="516.5" width="2" height="16" fill="#ff6464" stroke="#f00"/><path d="M724.5 500V521" stroke="#000"/><rect x="723.5" y="509.5" width="2" height="7" fill="#fff" stroke="#000"/><path d="M727.5 498V515" stroke="#f00"/><rect x="726.5" y="502.5" width="2" height="11" fill="#ff6464" stroke="#f00"/><path d="M729.5 504V540" stroke="#f00"/><rect x="728.5" y="508.5" width="2" height="30" fill="#ff6464" stroke="#f00"/><path d="M732.5 529V559" stroke="#f00"/><rect x="731.5" y="533.5" width="2" height="25" fill="#ff6464" stroke="#f00"/><path d="M734.5 555V573" stroke="#f00"/><rect x="733.5" y="555.5" width="2" height="14" fill="#ff6464" stroke="#f00"/><path d="M737.5 548V578" stroke="#f00"/><rect x="736.5" y="555.5" width="2" height="21" fill="#ff6464" stroke="#f00"/><path d="M739.5 567V596" stroke="#f00"/><rect x="738.5" y="570.5" width="2" height="16" fill="#ff6464" stroke="#f00"/><path d="M742.5 542V575" stroke="#000"/><rect x="741.5" y="551.5" width="2" height="22" fill="#fff" stroke="#000"/><path d="M744.5 492V534" stroke="#000"/><rect x="743.5" y="509.5" width="2" height="22" fill="#fff" stroke="#000"/><path d="M747.5 506V515" stroke="#000"/><rect x="746.5" y="507.5" width="2" height="4" fill="#fff" stroke="#000"/><path d="M749.5 491V508" stroke="#000"/><rect x="748.5" y="501.5" width="2" height="4" fill="#fff" stroke="#000"/><path d="M752.5 461V480" stroke="#f00"/><rect x="751.5" y="461.5" width="2" height="17" fill="#ff6464" stroke="#f00"/><path d="M754.5 444V491" stroke="#000"/><rect x="753.5" y="445.5" width="2" height="33" fill="#fff" stroke="#000"/><path d="M757.5 405V450" stroke="#000"/><rect x="756.5" y="405.5" width="2" height="39" fill="#fff" stroke="#000"/><path d="M759.5 379V410" stroke="#000"/><rect x="758.5" y="380.5" width="2" height="23" fill="#fff" stroke="#000"/><path d="M762.5 372V389" stroke="#f00"/><rect x="761.5" y="375.5" width="2" height="11" fill="#ff6464" stroke="#f00"/><path d="M764.5 362V415" stroke="#f00"/><rect x="763.5" y="371.5" width="2" height="31" fill="#ff6464" stroke="#f00"/><path d="M767.5 371V408" stroke="#f00"/><rect x="766.5" y="376.5" width="2" height="28" fill="#ff6464" stroke="#f00"/><path d="M769.5 384V419" stroke="#000"/><rect x="768.5" y="386.5" width="2" height="16" fill="#fff" stroke="#000"/><path d="M772.5 358V386" stroke="#000"/><rect x="771.5" y="375.5" width="2" height="9" fill="#fff" stroke="#000"/><path d="M774.5 375V391" stroke="#f00"/><rect x="773.5" y="376.5" width="2" height="14" fill="#ff6464" stroke="#f00"/><path d="M777.5 373V403" stroke="#000"/><rect x="776.5" y="374.5" width="2" height="16" fill="#fff" stroke="#000"/><path d="M779.5 334V378" stroke="#000"/><rect x="778.5" y="337.5" width="2" height="36" fill="#fff" stroke="#000"/><path d="M782.5 287V338" stroke="#000"/><rect x="781.5" y="290.5" width="2" height="45" fill="#fff" stroke="#000"/><path d="M784.5 266V292" stroke="#000"/><rect x="783.5" y="278.5" width="2" height="10" fill="#fff" stroke="#000"/><path d="M787.5 273V403" stroke="#f00"/><rect x="786.5" y="275.5" width="2" height="106" fill="#ff6464" stroke="#f00"/><path d="M789.5 339V371" stroke="#f00"/><rect x="788.5" y="344.5" width="2" height="24" fill="#ff6464" stroke="#f00"/><path d="M792.5 363V395" stroke="#f00"/><rect x="791.5" y="365.5" width="2" height="20" fill="#ff6464" stroke="#f00"/><path d="M794.5 331V379" stroke="#000"/><rect x="793.5" y="340.5" width="2" height="33" fill="#fff" stroke="#000"/><path d="M797.5 317V346" stroke="#f00"/><rect x="796.5" y="326.5" width="2" height="19" fill="#ff6464" stroke="#f00"/><path d="M799.5 341V436" stroke="#f00"/><rect x="798.5" y="342.5" width="2" height="86" fill="#ff6464" stroke="#f00"/><path d="M802.5 414V459" stroke="#f00"/><rect x="801.5" y="415.5" width="2" height="29" fill="#ff6464" stroke="#f00"/><path d="M804.5 386V454" stroke="#000"/><rect x="803.5" y="406.5" width="2" height="21" fill="#fff" stroke="#000"/><path d="M807.5 406V426" stroke="#f00"/><rect x="806.5" y="407.5" width="2" height="16" fill="#ff6464" stroke="#f00"/><path d="M809.5 411V442" stroke="#000"/><rect x="808.5" y="417.5" width="2" height="6" fill="#fff" stroke="#000"/><path d="M812.5 363V421" stroke="#000"/><rect x="811.5" y="364.5" width="2" height="52" fill="#fff" stroke="#000"/><path d="M814.5 326V369" stroke="#000"/><rect x="813.5" y="328.5" width="2" height="35" fill="#fff" stroke="#000"/><path d="M817.5 322V331" stroke="#000"/><rect x="816.5" y="323.5" width="2" height="3" fill="#fff" stroke="#000"/><path d="M819.5 316V357" stroke="#f00"/><rect x="818.5" y="319.5" width="2" height="32" fill="#ff6464" stroke="#f00"/><path d="M822.5 330V355" stroke="#000"/><rect x="821.5" y="333.5" width="2" height="10" fill="#fff" stroke="#000"/><path d="M824.5 283V334" stroke="#000"/><rect x="823.5" y="291.5" width="2" height="40" fill="#fff" stroke="#000"/><path d="M827.5 277V298" stroke="#000"/><rect x="826.5" y="278.5" width="2" height="13" fill="#fff" stroke="#000"/><path d="M829.5 257V289" stroke="#000"/><rect x="828.5" y="258.5" width="2" height="20" fill="#fff" stroke="#000"/><path d="M832.5 216V284" stroke="#000"/><rect x="831.5" y="244.5" width="2" height="16" fill="#fff" stroke="#000"/><path d="M834.5 234V255" stroke="#000"/><rect x="833.5" y="243.5" width="2" height="5" fill="#fff" stroke="#000"/><path d="M837.5 238V284" stroke="#f00"/><rect x="836.5" y="240.5" width="2" height="27" fill="#ff6464" stroke="#f00"/><path d="M839.5 204V246" stroke="#000"/><rect x="838.5" y="206.5" width="2" height="37" fill="#fff" stroke="#000"/><path d="M842.5 176V208" stroke="#000"/><rect x="841.5" y="176.5" width="2" height="28" fill="#fff" stroke="#000"/><path d="M844.5 174V190" stroke="#f00"/><rect x="843.5" y="174.5" width="2" height="14" fill="#ff6464" stroke="#f00"/><path d="M847.5 155V207" stroke="#000"/><rect x="846.5" y="166.5" width="2" height="23" fill="#fff" stroke="#000"/><path d="M849.5 146V181" stroke="#f00"/><rect x="848.5" y="154.5" width="2" height="22" fill="#ff6464" stroke="#f00"/><path d="M852.5 153V192" stroke="#f00"/><rect x="851.5" y="161.5" width="2" height="21" fill="#ff6464" stroke="#f00"/><path d="M854.5 158V200" stroke="#f00"/><rect x="853.5" y="163.5" width="2" height="33" fill="#ff6464" stroke="#f00"/><path d="M857.5 186V260" stroke="#f00"/><rect x="856.5" y="189.5" width="2" height="64" fill="#ff6464" stroke="#f00"/><path d="M859.5 221V278" stroke="#000"/><rect x="858.5" y="238.5" width="2" height="10" fill="#fff" stroke="#000"/><path d="M862.5 219V257" stroke="#000"/><rect x="861.5" y="224.5" width="2" height="18" fill="#fff" stroke="#000"/><path d="M864.5 194V228" stroke="#000"/><rect x="863.5" y="205.5" width="2" height="18" fill="#fff" stroke="#000"/><path d="M867.5 189V283" stroke="#f00"/><rect x="866.5" y="196.5" width="2" height="59" fill="#ff6464" stroke="#f00"/><path d="M869.5 158V241" stroke="#000"/><rect x="868.5" y="189.5" width="2" height="29" fill="#fff" stroke="#000"/><path d="M872.5 174V195" stroke="#f00"/><rect x="871.5" y="182.5" width="2" height="11" fill="#ff6464" stroke="#f00"/><path d="M874.5 190V281" stroke="#f00"/><rect x="873.5" y="191.5" width="2" height="64" fill="#ff6464" stroke="#f00"/><path d="M877.5 207V233" stroke="#f00"/><rect x="876.5" y="212.5" width="2" height="15" fill="#ff6464" stroke="#f00"/><path d="M879.5 201V262" stroke="#f00"/><rect x="878.5" y="209.5" width="2" height="50" fill="#ff6464" stroke="#f00"/><path d="M882.5 244V303" stroke="#f00"/><rect x="881.5" y="250.5" width="2" height="47" fill="#ff6464" stroke="#f00"/><path d="M884.5 254V319" stroke="#000"/><rect x="883.5" y="282.5" width="2" height="12" fill="#fff" stroke="#000"/><path d="M887.5 268V292" stroke="#000"/><rect x="886.5" y="270.5" width="2" height="15" fill="#fff" stroke="#000"/><path d="M889.5 260V285" stroke="#000"/><rect x="888.5" y="261.5" width="2" height="10" fill="#fff" stroke="#000"/><path d="M892.5 247V272" stroke="#f00"/><rect x="891.5" y="252.5" width="2" height="16" fill="#ff6464" stroke="#f00"/><path d="M894.5 251V286" stroke="#f00"/><rect x="893.5" y="256.5" width="2" height="21" fill="#ff6464" stroke="#f00"/><path d="M897.5 259V305" stroke="#f00"/><rect x="896.5" y="261.5" width="2" height="40" fill="#ff6464" stroke="#f00"/><path d="M899.5 295V327" stroke="#f00"/><rect x="898.5" y="297.5" width="2" height="22" fill="#ff6464" stroke="#f00"/><path d="M902.5 296V310" stroke="#000"/><rect x="901.5" y="297.5" width="2" height="11" fill="#fff" stroke="#000"/><path d="M904.5 284V339" stroke="#f00"/><rect x="903.5" y="289.5" width="2" height="48" fill="#ff6464" stroke="#f00"/><path d="M907.5 334V381" stroke="#f00"/><rect x="906.5" y="335.5" width="2" height="41" fill="#ff6464" stroke="#f00"/><path d="M909.5 370V423" stroke="#f00"/><rect x="908.5" y="372.5" width="2" height="35" fill="#ff6464" stroke="#f00"/><path d="M912.5 353V385" stroke="#000"/><rect x="911.5" y="360.5" width="2" height="23" fill="#fff" stroke="#000"/><path d="M914.5 358V386" stroke="#f00"/><rect x="913.5" y="359.5" width="2" height="24" fill="#ff6464" stroke="#f00"/><path d="M917.5 380V400" stroke="#f00"/><rect x="916.5" y="381.5" width="2" height="13" fill="#ff6464" stroke="#f00"/><path d="M919.5 371V430" stroke="#f00"/><rect x="918.5" y="378.5" width="2" height="48" fill="#ff6464" stroke="#f00"/><path d="M922.5 405V533" stroke="#f00"/><rect x="921.5" y="413.5" width="2" height="100" fill="#ff6464" stroke="#f00"/><path d="M924.5 450V497" stroke="#f00"/><rect x="923.5" y="465.5" width="2" height="28" fill="#ff6464" stroke="#f00"/><path d="M927.5 479V510" stroke="#000"/><rect x="926.5" y="483.5" width="2" height="6" fill="#fff" stroke="#000"/><path d="M929.5 437V487" stroke="#000"/><rect x="928.5" y="453.5" width="2" height="28" fill="#fff" stroke="#000"/><path d="M932.5 441V461" stroke="#000"/><rect x="931.5" y="442.5" width="2" height="12" fill="#fff" stroke="#000"/><path d="M934.5 384V472" stroke="#000"/><rect x="933.5" y="386.5" width="2" height="58" fill="#fff" stroke="#000"/><path d="M937.5 376V391" stroke="#000"/><rect x="936.5" y="376.5" width="2" height="9" fill="#fff" stroke="#000"/><path d="M939.5 372V408" stroke="#f00"/><rect x="938.5" y="373.5" width="2" height="33" fill="#ff6464" stroke="#f00"/><path d="M942.5 401V435" stroke="#f00"/><rect x="941.5" y="402.5" width="2" height="24" fill="#ff6464" stroke="#f00"/><path d="M944.5 391V427" stroke="#000"/><rect x="943.5" y="400.5" width="2" height="16" fill="#fff" stroke="#000"/><path d="M947.5 383V439" stroke="#f00"/><rect x="946.5" y="390.5" width="2" height="46" fill="#ff6464" stroke="#f00"/><path d="M949.5 419V485" stroke="#f00"/><rect x="948.5" y="426.5" width="2" height="47" fill="#ff6464" stroke="#f00"/><path d="M952.5 447V472" stroke="#f00"/><rect x="951.5" y="452.5" width="2" height="18" fill="#ff6464" stroke="#f00"/><path d="M954.5 424V514" stroke="#000"/><rect x="953.5" y="438.5" width="2" height="36" fill="#fff" stroke="#000"/><path d="M957.5 407V444" stroke="#000"/><rect x="956.5" y="413.5" width="2" height="25" fill="#fff" stroke="#000"/><path d="M959.5 407V442" stroke="#f00"/><rect x="958.5" y="409.5" width="2" height="31" fill="#ff6464" stroke="#f00"/><path d="M962.5 437V474" stroke="#f00"/><rect x="961.5" y="437.5" width="2" height="33" fill="#ff6464" stroke="#f00"/><path d="M964.5 443V492" stroke="#000"/><rect x="963.5" y="459.5" width="2" height="12" fill="#fff" stroke="#000"/><path d="M967.5 450V472" stroke="#f00"/><rect x="966.5" y="454.5" width="2" height="15" fill="#ff6464" stroke="#f00"/><path d="M969.5 464V484" stroke="#f00"/><rect x="968.5" y="465.5" width="2" height="12" fill="#ff6464" stroke="#f00"/><path d="M972.5 448V475" stroke="#000"/><rect x="971.5" y="452.5" width="2" height="16" fill="#fff" stroke="#000"/><path d="M974.5 424V453" stroke="#000"/><rect x="973.5" y="425.5" width="2" height="25" fill="#fff" stroke="#000"/><path d="M977.5 415V432" stroke="#000"/><rect x="976.5" y="416.5" width="2" height="8" fill="#fff" stroke="#000"/><path d="M979.5 404V420" stroke="#000"/><rect x="978.5" y="404.5" width="2" height="10" fill="#fff" stroke="#000"/><path d="M982.5 383V414" stroke="#000"/><rect x="981.5" y="396.5" width="2" height="8" fill="#fff" stroke="#000"/><path d="M984.5 342V375" stroke="#000"/><rect x="983.5" y="350.5" width="2" height="23" fill="#fff" stroke="#000"/><path d="M987.5 348V375" stroke="#f00"/><rect x="986.5" y="349.5" width="2" height="19" fill="#ff6464" stroke="#f00"/><path d="M989.5 343V382" stroke="#000"/><rect x="988.5" y="349.5" width="2" height="13" fill="#fff" stroke="#000"/><path d="M992.5 330V365" stroke="#f00"/><rect x="991.5" y="337.5" width="2" height="25" fill="#ff6464" stroke="#f00"/><path d="M994.5 346V391" stroke="#f00"/><rect x="993.5" y="352.5" width="2" height="33" fill="#ff6464" stroke="#f00"/><path d="M997.5 373V418" stroke="#f00"/><rect x="996.5" y="375.5" width="2" height="34" fill="#ff6464" stroke="#f00"/><path d="M999.5 394V418" stroke="#f00"/><rect x="998.5" y="395.5" width="2" height="16" fill="#ff6464" stroke="#f00"/><path d="M1002.5 391V419" stroke="#f00"/><rect x="1001.5" y="396.5" width="2" height="21" fill="#ff6464" stroke="#f00"/><path d="M1004.5 404V428" stroke="#000"/><rect x="1003.5" y="409.5" width="2" height="8" fill="#fff" stroke="#000"/><path d="M1007.5 389V410" stroke="#000"/><rect x="1006.5" y="397.5" width="2" height="10" fill="#fff" stroke="#000"/><path d="M1009.5 386V424" stroke="#f00"/><rect x="1008.5" y="390.5" width="2" height="32" fill="#ff6464" stroke="#f00"/><path d="M1012.5 407V442" stroke="#f00"/><rect x="1011.5" y="413.5" width="2" height="23" fill="#ff6464" stroke="#f00"/><path d="M1014.5 429V446" stroke="#f00"/><rect x="1013.5" y="430.5" width="2" height="10" fill="#ff6464" stroke="#f00"/><path d="M1017.5 421V440" stroke="#f00"/><rect x="1016.5" y="426.5" width="2" height="11" fill="#ff6464" stroke="#f00"/><path d="M1019.5 431V443" stroke="#f00"/><rect x="1018.5" y="432.5" width="2" height="7" fill="#ff6464" stroke="#f00"/><path d="M1022.5 415V465" stroke="#f00"/><rect x="1021.5" y="423.5" width="2" height="39" fill="#ff6464" stroke="#f00"/><path d="M1024.5 475V515" stroke="#f00"/><rect x="1023.5" y="475.5" width="2" height="34" fill="#ff6464" stroke="#f00"/><path d="M1027.5 488V545" stroke="#f00"/><rect x="1026.5" y="495.5" width="2" height="45" fill="#ff6464" stroke="#f00"/><path d="M1029.5 535V596" stroke="#f00"/><rect x="1028.5" y="536.5" width="2" height="41" fill="#ff6464" stroke="#f00"/><path d="M1032.5 532V555" stroke="#000"/><rect x="1031.5" y="544.5" width="2" height="7" fill="#fff" stroke="#000"/><path d="M1034.5 538V569" stroke="#f00"/><rect x="1033.5" y="541.5" width="2" height="23" fill="#ff6464" stroke="#f00"/><path d="M1037.5 551V561" stroke="#000"/><rect x="1036.5" y="551.5" width="2" height="5" fill="#fff" stroke="#000"/><path d="M1039.5 542V568" stroke="#f00"/><rect x="1038.5" y="545.5" width="2" height="21" fill="#ff6464" stroke="#f00"/><path d="M1042.5 552V581" stroke="#f00"/><rect x="1041.5" y="557.5" width="2" height="22" fill="#ff6464" stroke="#f00"/><path d="M1044.5 557V598" stroke="#f00"/><rect x="1043.5" y="566.5" width="2" height="22" fill="#ff6464" stroke="#f00"/><path d="M1047.5 553V584" stroke="#f00"/><rect x="1046.5" y="562.5" width="2" height="18" fill="#ff6464" stroke="#f00"/><path d="M1049.5 574V585" stroke="#f00"/><rect x="1048.5" y="574.5" width="2" height="7" fill="#ff6464" stroke="#f00"/><path d="M1052.5 565V590" stroke="#f00"/><rect x="1051.5" y="569.5" width="2" height="17" fill="#ff6464" stroke="#f00"/><path d="M1054.5 571V594" stroke="#f00"/><rect x="1053.5" y="576.5" width="2" height="14" fill="#ff6464" stroke="#f00"/><path d="M1057.5 581V604" stroke="#f00"/><rect x="1056.5" y="583.5" width="2" height="19" fill="#ff6464" stroke="#f00"/><path d="M1059.5 629V673" stroke="#f00"/><rect x="1058.5" y="630.5" width="2" height="39" fill="#ff6464" stroke="#f00"/><path d="M1062.5 664V696" stroke="#f00"/><rect x="1061.5" y="666.5" width="2" height="21" fill="#ff6464" stroke="#f00"/><path d="M1064.5 676V691" stroke="#f00"/><rect x="1063.5" y="676.5" width="2" height="11" fill="#ff6464" stroke="#f00"/><path d="M1067.5 671V684" stroke="#f00"/><rect x="1066.5" y="675.5" width="2" height="8" fill="#ff6464" stroke="#f00"/><path d="M1069.5 674V692" stroke="#000"/><rect x="1068.5" y="675.5" width="2" height="8" fill="#fff" stroke="#000"/><path d="M1072.5 664V676" stroke="#000"/><rect x="1071.5" y="667.5" width="2" height="6" fill="#fff" stroke="#000"/><path d="M1074.5 665V685" stroke="#f00"/><rect x="1073.5" y="666.5" width="2" height="17" fill="#ff6464" stroke="#f00"/><path d="M1077.5 680V697" stroke="#f00"/><rect x="1076.5" y="681.5" width="2" height="11" fill="#ff6464" stroke="#f00"/><path d="M1079.5 678V690" stroke="#000"/><rect x="1078.5" y="678.5" width="2" height="8" fill="#fff" stroke="#000"/><path d="M1082.5 664V680" stroke="#000"/><rect x="1081.5" y="665.5" width="2" height="11" fill="#fff" stroke="#000"/><path d="M1084.5 658V672" stroke="#f00"/><rect x="1083.5" y="661.5" width="2" height="9" fill="#ff6464" stroke="#f00"/><path d="M1087.5 667V686" stroke="#f00"/><rect x="1086.5" y="668.5" width="2" height="16" fill="#ff6464" stroke="#f00"/><path d="M1089.5 671V696" stroke="#000"/><rect x="1088.5" y="677.5" width="2" height="7" fill="#fff" stroke="#000"/><path d="M1092.5 655V680" stroke="#000"/><rect x="1091.5" y="656.5" width="2" height="21" fill="#fff" stroke="#000"/><path d="M1094.5 608V649" stroke="#000"/><rect x="1093.5" y="617.5" width="2" height="31" fill="#fff" stroke="#000"/><path d="M1097.5 613V626" stroke="#000"/><rect x="1096.5" y="613.5" width="2" height="4" fill="#fff" stroke="#000"/><path d="M1099.5 602V630" stroke="#f00"/><rect x="1098.5" y="606.5" width="2" height="22" fill="#ff6464" stroke="#f00"/><path d="M1102.5 586V645" stroke="#000"/><rect x="1101.5" y="604.5" width="2" height="23" fill="#fff" stroke="#000"/><path d="M1104.5 590V612" stroke="#000"/><rect x="1103.5" y="595.5" width="2" height="10" fill="#fff" stroke="#000"/><path d="M1107.5 593V609" stroke="#f00"/><rect x="1106.5" y="593.5" width="2" height="12" fill="#ff6464" stroke="#f00"/><path d="M1109.5 599V614" stroke="#f00"/><rect x="1108.5" y="600.5" width="2" height="9" fill="#ff6464" stroke="#f00"/><path d="M1112.5 594V615" stroke="#000"/><rect x="1111.5" y="595.5" width="2" height="9" fill="#fff" stroke="#000"/><path d="M1114.5 575V601" stroke="#000"/><rect x="1113.5" y="582.5" width="2" height="12" fill="#fff" stroke="#000"/><path d="M1117.5 564V586" stroke="#000"/><rect x="1116.5" y="569.5" width="2" height="12" fill="#fff" stroke="#000"/><path d="M1119.5 553V571" stroke="#000"/><rect x="1118.5" y="561.5" width="2" height="7" fill="#fff" stroke="#000"/><path d="M1122.5 561V579" stroke="#f00"/><rect x="1121.5" y="561.5" width="2" height="14" fill="#ff6464" stroke="#f00"/><path d="M1124.5 571V591" stroke="#f00"/><rect x="1123.5" y="571.5" width="2" height="19" fill="#ff6464" stroke="#f00"/><path d="M1127.5 586V622" stroke="#f00"/><rect x="1126.5" y="588.5" width="2" height="27" fill="#ff6464" stroke="#f00"/><path d="M1129.5 594V608" stroke="#000"/><rect x="1128.5" y="599.5" width="2" height="7" fill="#fff" stroke="#000"/><path d="M1132.5 597V619" stroke="#f00"/><rect x="1131.5" y="598.5" width="2" height="18" fill="#ff6464" stroke="#f00"/><path d="M1134.5 612V638" stroke="#f00"/><rect x="1133.5" y="613.5" width="2" height="16" fill="#ff6464" stroke="#f00"/><path d="M1137.5 608V624" stroke="#f00"/><rect x="1136.5" y="613.5" width="2" height="8" fill="#ff6464" stroke="#f00"/><path d="M1139.5 609V619" stroke="#000"/><rect x="1138.5" y="610.5" width="2" height="8" fill="#fff" stroke="#000"/><path d="M1142.5 600V617" stroke="#f00"/><rect x="1141.5" y="604.5" width="2" height="11" fill="#ff6464" stroke="#f00"/><path d="M1144.5 592V627" stroke="#000"/><rect x="1143.5" y="598.5" width="2" height="15" fill="#fff" stroke="#000"/><path d="M1147.5 590V606" stroke="#f00"/><rect x="1146.5" y="593.5" width="2" height="9" fill="#ff6464" stroke="#f00"/><path d="M1149.5 598V622" stroke="#f00"/><rect x="1148.5" y="598.5" width="2" height="22" fill="#ff6464" stroke="#f00"/><path d="M1152.5 617V642" stroke="#f00"/><rect x="1151.5" y="617.5" width="2" height="23" fill="#ff6464" stroke="#f00"/><path d="M1157.5 639V663" stroke="#f00"/><rect x="1156.5" y="641.5" width="2" height="18" fill="#ff6464" stroke="#f00"/><path d="M1159.5 649V665" stroke="#000"/><rect x="1158.5" y="650.5" width="2" height="6" fill="#fff" stroke="#000"/><path d="M1162.5 639V659" stroke="#f00"/><rect x="1161.5" y="644.5" width="2" height="12" fill="#ff6464" stroke="#f00"/><path d="M1164.5 648V654" stroke="#000"/><rect x="1163.5" y="650.5" width="2" height="1" fill="#fff" stroke="#000"/><path d="M1167.5 649V658" stroke="#f00"/><rect x="1166.5" y="650.5" width="2" height="4" fill="#ff6464" stroke="#f00"/><path d="M1169.5 645V652" stroke="#000"/><rect x="1168.5" y="647.5" width="2" height="4" fill="#fff" stroke="#000"/><path d="M1172.5 643V650" stroke="#f00"/><rect x="1171.5" y="644.5" width="2" height="5" fill="#ff6464" stroke="#f00"/><path d="M1174.5 647V659" stroke="#f00"/><rect x="1173.5" y="648.5" width="2" height="9" fill="#ff6464" stroke="#f00"/><path d="M1177.5 655V662" stroke="#f00"/><rect x="1176.5" y="655.5" width="2" height="6" fill="#ff6464" stroke="#f00"/><path d="M1179.5 652V668" stroke="#000"/><rect x="1178.5" y="653.5" width="2" height="8" fill="#fff" stroke="#000"/><path d="M1182.5 649V656" stroke="#f00"/><rect x="1181.5" y="650.5" width="2" height="5" fill="#ff6464" stroke="#f00"/><path d="M1184.5 651V656" stroke="#f00"/><rect x="1183.5" y="653.5" width="2" height="2" fill="#ff6464" stroke="#f00"/><path d="M1187.5 654V661" stroke="#f00"/><rect x="1186.5" y="654.5" width="2" height="5" fill="#ff6464" stroke="#f00"/><path d="M1189.5 621V651" stroke="#000"/><rect x="1188.5" y="622.5" width="2" height="27" fill="#fff" stroke="#000"/><path d="M1192.5 614V624" stroke="#000"/><rect x="1191.5" y="615.5" width="2" height="5" fill="#fff" stroke="#000"/><path d="M1194.5 607V625" stroke="#000"/><rect x="1193.5" y="612.5" width="2" height="3" fill="#fff" stroke="#000"/><path d="M1197.5 612V619" stroke="#f00"/><rect x="1196.5" y="612.5" width="2" height="5" fill="#ff6464" stroke="#f00"/><path d="M1199.5 602V628" stroke="#000"/><rect x="1198.5" y="609.5" width="2" height="6" fill="#fff" stroke="#000"/><path d="M1202.5 607V632" stroke="#f00"/><rect x="1201.5" y="608.5" width="2" height="22" fill="#ff6464" stroke="#f00"/><path d="M1204.5 616V686" stroke="#f00"/><rect x="1203.5" y="622.5" width="2" height="53" fill="#ff6464" stroke="#f00"/><path d="M1207.5 651V674" stroke="#f00"/><rect x="1206.5" y="654.5" width="2" height="16" fill="#ff6464" stroke="#f00"/><path d="M1209.5 665V673" stroke="#f00"/><rect x="1208.5" y="666.5" width="2" height="3" fill="#ff6464" stroke="#f00"/><path d="M1212.5 657V671" stroke="#f00"/><rect x="1211.5" y="660.5" width="2" height="10" fill="#ff6464" stroke="#f00"/><path d="M1217.5 677V686" stroke="#000"/><rect x="1216.5" y="677.5" width="2" height="1" fill="#fff" stroke="#000"/><path d="M1219.5 668V678" stroke="#000"/><rect x="1218.5" y="668.5" width="2" height="8" fill="#fff" stroke="#000"/><path d="M1222.5 666V675" stroke="#f00"/><rect x="1221.5" y="667.5" width="2" height="4" fill="#ff6464" stroke="#f00"/><path d="M1224.5 656V669" stroke="#000"/><rect x="1223.5" y="659.5" width="2" height="9" fill="#fff" stroke="#000"/><path d="M1227.5 654V659" stroke="#000"/><rect x="1226.5" y="657.5" width="2" height="1" fill="#fff" stroke="#000"/><path d="M1229.5 656V663" stroke="#f00"/><rect x="1228.5" y="657.5" width="2" height="4" fill="#ff6464" stroke="#f00"/><path d="M1232.5 659V665" stroke="#f00"/><rect x="1231.5" y="659.5" width="2" height="4" fill="#ff6464" stroke="#f00"/><path d="M1234.5 655V662" stroke="#000"/><rect x="1233.5" y="655.5" width="2" height="5" fill="#fff" stroke="#000"/><path d="M1237.5 651V658" stroke="#000"/><rect x="1236.5" y="653.5" width="2" height="1" fill="#fff" stroke="#000"/><path d="M1239.5 647V664" stroke="#f00"/><rect x="1238.5" y="649.5" width="2" height="13" fill="#ff6464" stroke="#f00"/><path d="M1242.5 660V672" stroke="#f00"/><rect x="1241.5" y="660.5" width="2" height="10" fill="#ff6464" stroke="#f00"/><path d="M1244.5 666V676" stroke="#f00"/><rect x="1243.5" y="667.5" width="2" height="5" fill="#ff6464" stroke="#f00"/><path d="M1247.5 665V671" stroke="#000"/><rect x="1246.5" y="666.5" width="2" height="2" fill="#fff" stroke="#000"/><path d="M1249.5 664V670" stroke="#f00"/><rect x="1248.5" y="665.5" width="2" height="2" fill="#ff6464" stroke="#f00"/><path d="M1252.5 665V673" stroke="#f00"/><rect x="1251.5" y="666.5" width="2" height="5" fill="#ff6464" stroke="#f00"/><path d="M1254.5 666V671" stroke="#000"/><rect x="1253.5" y="669.5" width="2" height="1" fill="#fff" stroke="#000"/><path d="M1257.5 665V670" stroke="#000"/><rect x="1256.5" y="667.5" width="2" height="1" fill="#fff" stroke="#000"/><path d="M1259.5 660V668" stroke="#000"/><rect x="1258.5" y="662.5" width="2" height="4" fill="#fff" stroke="#000"/><path d="M1262.5 656V664" stroke="#000"/><rect x="1261.5" y="656.5" width="2" height="5" fill="#fff" stroke="#000"/><path d="M1264.5 649V661" stroke="#000"/><rect x="1263.5" y="650.5" width="2" height="5" fill="#fff" stroke="#000"/><path d="M1267.5 631V651" stroke="#000"/><rect x="1266.5" y="633.5" width="2" height="16" fill="#fff" stroke="#000"/><path d="M1272.5 611V626" stroke="#f00"/><rect x="1271.5" y="613.5" width="2" height="9" fill="#ff6464" stroke="#f00"/><path d="M1274.5 607V624" stroke="#000"/><rect x="1273.5" y="613.5" width="2" height="6" fill="#fff" stroke="#000"/><path d="M1277.5 606V619" stroke="#000"/><rect x="1276.5" y="611.5" width="2" height="3" fill="#fff" stroke="#000"/><path d="M1279.5 607V619" stroke="#f00"/><rect x="1278.5" y="609.5" width="2" height="6" fill="#ff6464" stroke="#f00"/><path d="M1282.5 607V616" stroke="#f00"/><rect x="1281.5" y="609.5" width="2" height="4" fill="#ff6464" stroke="#f00"/><path d="M1284.5 605V619" stroke="#f00"/><rect x="1283.5" y="608.5" width="2" height="8" fill="#ff6464" stroke="#f00"/><path d="M1287.5 596V620" stroke="#000"/><rect x="1286.5" y="601.5" width="2" height="12" fill="#fff" stroke="#000"/><path d="M1289.5 600V607" stroke="#f00"/><rect x="1288.5" y="601.5" width="2" height="4" fill="#ff6464" stroke="#f00"/><path d="M1292.5 603V610" stroke="#f00"/><rect x="1291.5" y="603.5" width="2" height="5" fill="#ff6464" stroke="#f00"/><path d="M1294.5 599V624" stroke="#f00"/><rect x="1293.5" y="601.5" width="2" height="21" fill="#ff6464" stroke="#f00"/><path d="M1297.5 619V631" stroke="#f00"/><rect x="1296.5" y="619.5" width="2" height="7" fill="#ff6464" stroke="#f00"/><path d="M1299.5 603V625" stroke="#000"/><rect x="1298.5" y="607.5" width="2" height="14" fill="#fff" stroke="#000"/><path d="M1302.5 590V608" stroke="#000"/><rect x="1301.5" y="599.5" width="2" height="6" fill="#fff" stroke="#000"/><path d="M1304.5 595V605" stroke="#f00"/><rect x="1303.5" y="597.5" width="2" height="7" fill="#ff6464" stroke="#f00"/><path d="M1307.5 597V610" stroke="#f00"/><rect x="1306.5" y="600.5" width="2" height="8" fill="#ff6464" stroke="#f00"/><path d="M1309.5 606V616" stroke="#f00"/><rect x="1308.5" y="606.5" width="2" height="6" fill="#ff6464" stroke="#f00"/><path d="M1312.5 605V611" stroke="#000"/><rect x="1311.5" y="606.5" width="2" height="2" fill="#fff" stroke="#000"/><path d="M1314.5 601V612" stroke="#f00"/><rect x="1313.5" y="603.5" width="2" height="6" fill="#ff6464" stroke="#f00"/><path d="M1317.5 603V618" stroke="#f00"/><rect x="1316.5" y="605.5" width="2" height="10" fill="#ff6464" stroke="#f00"/><path d="M1319.5 611V625" stroke="#f00"/><rect x="1318.5" y="611.5" width="2" height="12" fill="#ff6464" stroke="#f00"/><path d="M1322.5 618V645" stroke="#f00"/><rect x="1321.5" y="620.5" width="2" height="22" fill="#ff6464" stroke="#f00"/><path d="M1324.5 596V616" stroke="#000"/><rect x="1323.5" y="598.5" width="2" height="17" fill="#fff" stroke="#000"/><path d="M1327.5 585V603" stroke="#f00"/><rect x="1326.5" y="590.5" width="2" height="12" fill="#ff6464" stroke="#f00"/><path d="M1329.5 590V610" stroke="#000"/><rect x="1328.5" y="592.5" width="2" height="9" fill="#fff" stroke="#000"/><path d="M1332.5 581V596" stroke="#000"/><rect x="1331.5" y="585.5" width="2" height="6" fill="#fff" stroke="#000"/><path d="M1334.5 576V593" stroke="#f00"/><rect x="1333.5" y="580.5" width="2" height="11" fill="#ff6464" stroke="#f00"/><path d="M1337.5 585V593" stroke="#f00"/><rect x="1336.5" y="586.5" width="2" height="6" fill="#ff6464" stroke="#f00"/><path d="M1339.5 584V598" stroke="#000"/><rect x="1338.5" y="586.5" width="2" height="6" fill="#fff" stroke="#000"/><path d="M1342.5 579V588" stroke="#000"/><rect x="1341.5" y="581.5" width="2" height="4" fill="#fff" stroke="#000"/><path d="M1344.5 578V588" stroke="#000"/><rect x="1343.5" y="578.5" width="2" height="3" fill="#fff" stroke="#000"/><path d="M1347.5 564V585" stroke="#000"/><rect x="1346.5" y="574.5" width="2" height="4" fill="#fff" stroke="#000"/><path d="M1349.5 567V576" stroke="#000"/><rect x="1348.5" y="570.5" width="2" height="4" fill="#fff" stroke="#000"/><path d="M1352.5 569V576" stroke="#f00"/><rect x="1351.5" y="569.5" width="2" height="4" fill="#ff6464" stroke="#f00"/><path d="M1354.5 561V572" stroke="#000"/><rect x="1353.5" y="562.5" width="2" height="7" fill="#fff" stroke="#000"/><path d="M1357.5 545V569" stroke="#000"/><rect x="1356.5" y="546.5" width="2" height="15" fill="#fff" stroke="#000"/><path d="M1359.5 536V547" stroke="#f00"/><rect x="1358.5" y="540.5" width="2" height="6" fill="#ff6464" stroke="#f00"/><path d="M1362.5 541V560" stroke="#f00"/><rect x="1361.5" y="542.5" width="2" height="16" fill="#ff6464" stroke="#f00"/><path d="M1364.5 552V581" stroke="#f00"/><rect x="1363.5" y="554.5" width="2" height="23" fill="#ff6464" stroke="#f00"/><path d="M1367.5 572V583" stroke="#000"/><rect x="1366.5" y="573.5" width="2" height="2" fill="#fff" stroke="#000"/><path d="M1369.5 560V582" stroke="#f00"/><rect x="1368.5" y="565.5" width="2" height="13" fill="#ff6464" stroke="#f00"/><path d="M1372.5 565V576" stroke="#f00"/><rect x="1371.5" y="569.5" width="2" height="5" fill="#ff6464" stroke="#f00"/><path d="M1374.5 568V580" stroke="#000"/><rect x="1373.5" y="568.5" width="2" height="6" fill="#fff" stroke="#000"/><path d="M1377.5 554V576" stroke="#f00"/><rect x="1376.5" y="560.5" width="2" height="12" fill="#ff6464" stroke="#f00"/><path d="M1379.5 566V578" stroke="#f00"/><rect x="1378.5" y="566.5" width="2" height="9" fill="#ff6464" stroke="#f00"/><path d="M1382.5 572V581" stroke="#f00"/><rect x="1381.5" y="572.5" width="2" height="7" fill="#ff6464" stroke="#f00"/><path d="M1384.5 575V592" stroke="#f00"/><rect x="1383.5" y="576.5" width="2" height="11" fill="#ff6464" stroke="#f00"/><path d="M1387.5 579V586" stroke="#f00"/><rect x="1386.5" y="580.5" width="2" height="3" fill="#ff6464" stroke="#f00"/><path d="M1389.5 579V584" stroke="#f00"/><rect x="1388.5" y="580.5" width="2" height="2" fill="#ff6464" stroke="#f00"/><path d="M1392.5 579V585" stroke="#000"/><rect x="1391.5" y="579.5" width="2" height="2" fill="#fff" stroke="#000"/><path d="M1394.5 574V585" stroke="#f00"/><rect x="1393.5" y="576.5" width="2" height="6" fill="#ff6464" stroke="#f00"/><path d="M1397.5 578V587" stroke="#f00"/><rect x="1396.5" y="579.5" width="2" height="6" fill="#ff6464" stroke="#f00"/><path d="M1399.5 565V575" stroke="#f00"/><rect x="1398.5" y="565.5" width="2" height="7" fill="#ff6464" stroke="#f00"/><path d="M1402.5 567V575" stroke="#f00"/><rect x="1401.5" y="568.5" width="2" height="5" fill="#ff6464" stroke="#f00"/><path d="M1404.5 570V573" stroke="#000"/><rect x="1403.5" y="570.5" width="2" height="1" fill="#fff" stroke="#000"/><path d="M1407.5 567V585" stroke="#f00"/><rect x="1406.5" y="568.5" width="2" height="12" fill="#ff6464" stroke="#f00"/><path d="M1409.5 570V581" stroke="#f00"/><rect x="1408.5" y="572.5" width="2" height="6" fill="#ff6464" stroke="#f00"/><path d="M1412.5 574V581" stroke="#f00"/><rect x="1411.5" y="576.5" width="2" height="3" fill="#ff6464" stroke="#f00"/><path d="M1414.5 588V598" stroke="#f00"/><rect x="1413.5" y="589.5" width="2" height="7" fill="#ff6464" stroke="#f00"/><path d="M1417.5 591V608" stroke="#f00"/><rect x="1416.5" y="593.5" width="2" height="11" fill="#ff6464" stroke="#f00"/><path d="M1419.5 592V605" stroke="#000"/><rect x="1418.5" y="595.5" width="2" height="5" fill="#fff" stroke="#000"/><path d="M1422.5 570V596" stroke="#000"/><rect x="1421.5" y="574.5" width="2" height="20" fill="#fff" stroke="#000"/><path d="M1424.5 563V577" stroke="#000"/><rect x="1423.5" y="568.5" width="2" height="5" fill="#fff" stroke="#000"/><path d="M1427.5 567V575" stroke="#f00"/><rect x="1426.5" y="568.5" width="2" height="5" fill="#ff6464" stroke="#f00"/><path d="M1429.5 569V580" stroke="#f00"/><rect x="1428.5" y="570.5" width="2" height="7" fill="#ff6464" stroke="#f00"/><path d="M1432.5 565V581" stroke="#000"/><rect x="1431.5" y="568.5" width="2" height="6" fill="#fff" stroke="#000"/><path d="M1434.5 558V569" stroke="#000"/><rect x="1433.5" y="563.5" width="2" height="4" fill="#fff" stroke="#000"/><path d="M1437.5 561V571" stroke="#f00"/><rect x="1436.5" y="561.5" width="2" height="8" fill="#ff6464" stroke="#f00"/><path d="M1439.5 568V578" stroke="#f00"/><rect x="1438.5" y="568.5" width="2" height="7" fill="#ff6464" stroke="#f00"/><path d="M1442.5 565V576" stroke="#000"/><rect x="1441.5" y="566.5" width="2" height="5" fill="#fff" stroke="#000"/><path d="M1444.5 553V574" stroke="#000"/><rect x="1443.5" y="555.5" width="2" height="11" fill="#fff" stroke="#000"/><path d="M1447.5 550V570" stroke="#f00"/><rect x="1446.5" y="552.5" width="2" height="15" fill="#ff6464" stroke="#f00"/><path d="M1449.5 564V572" stroke="#f00"/><rect x="1448.5" y="564.5" width="2" height="5" fill="#ff6464" stroke="#f00"/><path d="M1452.5 567V573" stroke="#f00"/><rect x="1451.5" y="567.5" width="2" height="5" fill="#ff6464" stroke="#f00"/><path d="M1454.5 570V578" stroke="#f00"/><rect x="1453.5" y="571.5" width="2" height="4" fill="#ff6464" stroke="#f00"/><path d="M1457.5 572V575" stroke="#f00"/><rect x="1456.5" y="572.5" width="2" height="2" fill="#ff6464" stroke="#f00"/><path d="M1459.5 572V576" stroke="#f00"/><rect x="1458.5" y="572.5" width="2" height="3" fill="#ff6464" stroke="#f00"/><path d="M1462.5 573V579" stroke="#f00"/><rect x="1461.5" y="573.5" width="2" height="4" fill="#ff6464" stroke="#f00"/><path d="M1464.5 574V581" stroke="#f00"/><rect x="1463.5" y="574.5" width="2" height="5" fill="#ff6464" stroke="#f00"/><path d="M1467.5 577V582" stroke="#f00"/><rect x="1466.5" y="577.5" width="2" height="3" fill="#ff6464" stroke="#f00"/><path d="M1469.5 573V580" stroke="#000"/><rect x="1468.5" y="577.5" width="2" height="1" fill="#fff" stroke="#000"/><path d="M1472.5 575V578" stroke="#f00"/><rect x="1471.5" y="576.5" width="2" height="1" fill="#ff6464" stroke="#f00"/><path d="M1474.5 575V579" stroke="#f00"/><rect x="1473.5" y="575.5" width="2" height="3" fill="#ff6464" stroke="#f00"/><path d="M1477.5 575V594" stroke="#f00"/><rect x="1476.5" y="576.5" width="2" height="16" fill="#ff6464" stroke="#f00"/><path d="M1479.5 581V614" stroke="#f00"/><rect x="1478.5" y="585.5" width="2" height="26" fill="#ff6464" stroke="#f00"/><path d="M1482.5 599V609" stroke="#000"/><rect x="1481.5" y="605.5" width="2" height="2" fill="#fff" stroke="#000"/><path d="M1484.5 601V613" stroke="#f00"/><rect x="1483.5" y="603.5" width="2" height="7" fill="#ff6464" stroke="#f00"/><path d="M1487.5 601V607" stroke="#000"/><rect x="1486.5" y="601.5" width="2" height="4" fill="#fff" stroke="#000"/><path d="M1489.5 590V607" stroke="#000"/><rect x="1488.5" y="599.5" width="2" height="2" fill="#fff" stroke="#000"/><path d="M1492.5 595V604" stroke="#f00"/><rect x="1491.5" y="597.5" width="2" height="5" fill="#ff6464" stroke="#f00"/><path d="M1494.5 601V609" stroke="#f00"/><rect x="1493.5" y="601.5" width="2" height="6" fill="#ff6464" stroke="#f00"/><path d="M1497.5 605V609" stroke="#000"/><rect x="1496.5" y="606.5" width="2" height="1" fill="#fff" stroke="#000"/><path d="M1499.5 604V609" stroke="#f00"/><rect x="1498.5" y="605.5" width="2" height="2" fill="#ff6464" stroke="#f00"/><path d="M1502.5 606V621" stroke="#f00"/><rect x="1501.5" y="606.5" width="2" height="12" fill="#ff6464" stroke="#f00"/><path d="M1504.5 609V622" stroke="#000"/><rect x="1503.5" y="613.5" width="2" height="2" fill="#fff" stroke="#000"/><path d="M1507.5 605V613" stroke="#000"/><rect x="1506.5" y="606.5" width="2" height="6" fill="#fff" stroke="#000"/><path d="M1509.5 603V609" stroke="#f00"/><rect x="1508.5" y="604.5" width="2" height="4" fill="#ff6464" stroke="#f00"/><path d="M1512.5 606V615" stroke="#f00"/><rect x="1511.5" y="606.5" width="2" height="6" fill="#ff6464" stroke="#f00"/><path d="M1514.5 610V616" stroke="#f00"/><rect x="1513.5" y="610.5" width="2" height="4" fill="#ff6464" stroke="#f00"/><path d="M1517.5 612V615" stroke="#f00"/><rect x="1516.5" y="612.5" width="2" height="2" fill="#ff6464" stroke="#f00"/><path d="M1519.5 602V617" stroke="#000"/><rect x="1518.5" y="604.5" width="2" height="9" fill="#fff" stroke="#000"/><path d="M1522.5 592V606" stroke="#000"/><rect x="1521.5" y="599.5" width="2" height="5" fill="#fff" stroke="#000"/><path d="M1524.5 598V607" stroke="#f00"/><rect x="1523.5" y="599.5" width="2" height="7" fill="#ff6464" stroke="#f00"/><path d="M1527.5 604V609" stroke="#f00"/><rect x="1526.5" y="604.5" width="2" height="3" fill="#ff6464" stroke="#f00"/><path d="M1529.5 605V617" stroke="#f00"/><rect x="1528.5" y="605.5" width="2" height="9" fill="#ff6464" stroke="#f00"/><path d="M1532.5 612V620" stroke="#f00"/><rect x="1531.5" y="612.5" width="2" height="6" fill="#ff6464" stroke="#f00"/><path d="M1534.5 614V622" stroke="#000"/><rect x="1533.5" y="614.5" width="2" height="3" fill="#fff" stroke="#000"/><path d="M1537.5 608V619" stroke="#f00"/><rect x="1536.5" y="610.5" width="2" height="6" fill="#ff6464" stroke="#f00"/><path d="M1539.5 613V619" stroke="#f00"/><rect x="1538.5" y="613.5" width="2" height="3" fill="#ff6464" stroke="#f00"/><path d="M1542.5 602V619" stroke="#000"/><rect x="1541.5" y="604.5" width="2" height="9" fill="#fff" stroke="#000"/><path d="M1544.5 583V605" stroke="#000"/><rect x="1543.5" y="584.5" width="2" height="19" fill="#fff" stroke="#000"/><path d="M1547.5 574V586" stroke="#f00"/><rect x="1546.5" y="578.5" width="2" height="6" fill="#ff6464" stroke="#f00"/><path d="M1549.5 582V589" stroke="#f00"/><rect x="1548.5" y="582.5" width="2" height="4" fill="#ff6464" stroke="#f00"/><path d="M1552.5 580V585" stroke="#000"/><rect x="1551.5" y="581.5" width="2" height="2" fill="#fff" stroke="#000"/><path d="M1554.5 572V585" stroke="#f00"/><rect x="1553.5" y="576.5" width="2" height="8" fill="#ff6464" stroke="#f00"/><path d="M1559.5 555V574" stroke="#000"/><rect x="1558.5" y="556.5" width="2" height="13" fill="#fff" stroke="#000"/><path d="M1562.5 536V572" stroke="#000"/><rect x="1561.5" y="541.5" width="2" height="16" fill="#fff" stroke="#000"/><path d="M1564.5 538V559" stroke="#f00"/><rect x="1563.5" y="540.5" width="2" height="14" fill="#ff6464" stroke="#f00"/><path d="M1567.5 543V560" stroke="#f00"/><rect x="1566.5" y="545.5" width="2" height="12" fill="#ff6464" stroke="#f00"/><path d="M1569.5 553V568" stroke="#f00"/><rect x="1568.5" y="554.5" width="2" height="8" fill="#ff6464" stroke="#f00"/><path d="M1572.5 543V562" stroke="#000"/><rect x="1571.5" y="550.5" width="2" height="5" fill="#fff" stroke="#000"/><path d="M1574.5 535V564" stroke="#000"/><rect x="1573.5" y="542.5" width="2" height="10" fill="#fff" stroke="#000"/><path d="M1577.5 542V549" stroke="#f00"/><rect x="1576.5" y="542.5" width="2" height="6" fill="#ff6464" stroke="#f00"/><path d="M1579.5 546V554" stroke="#f00"/><rect x="1578.5" y="547.5" width="2" height="4" fill="#ff6464" stroke="#f00"/><path d="M1582.5 539V551" stroke="#f00"/><rect x="1581.5" y="543.5" width="2" height="7" fill="#ff6464" stroke="#f00"/><path d="M1584.5 512V527" stroke="#000"/><rect x="1583.5" y="516.5" width="2" height="4" fill="#fff" stroke="#000"/><path d="M1587.5 500V523" stroke="#000"/><rect x="1586.5" y="507.5" width="2" height="9" fill="#fff" stroke="#000"/><path d="M1589.5 501V516" stroke="#f00"/><rect x="1588.5" y="504.5" width="2" height="11" fill="#ff6464" stroke="#f00"/><path d="M1592.5 513V528" stroke="#f00"/><rect x="1591.5" y="513.5" width="2" height="12" fill="#ff6464" stroke="#f00"/><path d="M1594.5 508V534" stroke="#000"/><rect x="1593.5" y="513.5" width="2" height="8" fill="#fff" stroke="#000"/><path d="M1597.5 506V538" stroke="#f00"/><rect x="1596.5" y="509.5" width="2" height="21" fill="#ff6464" stroke="#f00"/><path d="M1599.5 519V531" stroke="#f00"/><rect x="1598.5" y="519.5" width="2" height="7" fill="#ff6464" stroke="#f00"/><path d="M1602.5 506V529" stroke="#f00"/><rect x="1601.5" y="512.5" width="2" height="13" fill="#ff6464" stroke="#f00"/><path d="M1604.5 514V524" stroke="#000"/><rect x="1603.5" y="514.5" width="2" height="5" fill="#fff" stroke="#000"/><path d="M1607.5 500V524" stroke="#000"/><rect x="1606.5" y="503.5" width="2" height="11" fill="#fff" stroke="#000"/><path d="M1609.5 491V516" stroke="#f00"/><rect x="1608.5" y="496.5" width="2" height="15" fill="#ff6464" stroke="#f00"/><path d="M1612.5 492V532" stroke="#f00"/><rect x="1611.5" y="498.5" width="2" height="26" fill="#ff6464" stroke="#f00"/><path d="M1614.5 514V526" stroke="#000"/><rect x="1613.5" y="515.5" width="2" height="2" fill="#fff" stroke="#000"/><path d="M1617.5 503V530" stroke="#f00"/><rect x="1616.5" y="507.5" width="2" height="15" fill="#ff6464" stroke="#f00"/><path d="M1619.5 494V521" stroke="#000"/><rect x="1618.5" y="495.5" width="2" height="17" fill="#fff" stroke="#000"/><path d="M1622.5 451V510" stroke="#000"/><rect x="1621.5" y="468.5" width="2" height="26" fill="#fff" stroke="#000"/><path d="M1624.5 467V483" stroke="#f00"/><rect x="1623.5" y="468.5" width="2" height="10" fill="#ff6464" stroke="#f00"/><path d="M1627.5 469V494" stroke="#f00"/><rect x="1626.5" y="470.5" width="2" height="19" fill="#ff6464" stroke="#f00"/><path d="M1629.5 480V499" stroke="#f00"/><rect x="1628.5" y="482.5" width="2" height="15" fill="#ff6464" stroke="#f00"/><path d="M1632.5 487V523" stroke="#f00"/><rect x="1631.5" y="491.5" width="2" height="30" fill="#ff6464" stroke="#f00"/><path d="M1634.5 517V531" stroke="#f00"/><rect x="1633.5" y="518.5" width="2" height="8" fill="#ff6464" stroke="#f00"/><path d="M1637.5 513V530" stroke="#000"/><rect x="1636.5" y="513.5" width="2" height="7" fill="#fff" stroke="#000"/><path d="M1639.5 498V520" stroke="#000"/><rect x="1638.5" y="509.5" width="2" height="4" fill="#fff" stroke="#000"/><path d="M1642.5 501V516" stroke="#f00"/><rect x="1641.5" y="505.5" width="2" height="10" fill="#ff6464" stroke="#f00"/><path d="M1644.5 511V516" stroke="#000"/><rect x="1643.5" y="512.5" width="2" height="2" fill="#fff" stroke="#000"/><path d="M1647.5 490V517" stroke="#000"/><rect x="1646.5" y="498.5" width="2" height="13" fill="#fff" stroke="#000"/><path d="M1649.5 480V501" stroke="#000"/><rect x="1648.5" y="481.5" width="2" height="16" fill="#fff" stroke="#000"/><path d="M1652.5 460V486" stroke="#000"/><rect x="1651.5" y="466.5" width="2" height="14" fill="#fff" stroke="#000"/><path d="M1654.5 443V470" stroke="#000"/><rect x="1653.5" y="449.5" width="2" height="17" fill="#fff" stroke="#000"/><path d="M1657.5 431V449" stroke="#000"/><rect x="1656.5" y="435.5" width="2" height="13" fill="#fff" stroke="#000"/><path d="M1659.5 411V436" stroke="#000"/><rect x="1658.5" y="419.5" width="2" height="15" fill="#fff" stroke="#000"/><path d="M1662.5 407V429" stroke="#f00"/><rect x="1661.5" y="412.5" width="2" height="13" fill="#ff6464" stroke="#f00"/><path d="M1664.5 412V426" stroke="#f00"/><rect x="1663.5" y="416.5" width="2" height="8" fill="#ff6464" stroke="#f00"/><path d="M1667.5 365V407" stroke="#000"/><rect x="1666.5" y="367.5" width="2" height="38" fill="#fff" stroke="#000"/><path d="M1669.5 337V379" stroke="#000"/><rect x="1668.5" y="354.5" width="2" height="13" fill="#fff" stroke="#000"/><path d="M1672.5 335V367" stroke="#000"/><rect x="1671.5" y="335.5" width="2" height="21" fill="#fff" stroke="#000"/><path d="M1674.5 293V343" stroke="#000"/><rect x="1673.5" y="302.5" width="2" height="32" fill="#fff" stroke="#000"/><path d="M1677.5 278V303" stroke="#000"/><rect x="1676.5" y="283.5" width="2" height="18" fill="#fff" stroke="#000"/><path d="M1679.5 255V284" stroke="#000"/><rect x="1678.5" y="265.5" width="2" height="17" fill="#fff" stroke="#000"/><path d="M1682.5 258V278" stroke="#f00"/><rect x="1681.5" y="261.5" width="2" height="16" fill="#ff6464" stroke="#f00"/><path d="M1684.5 270V325" stroke="#f00"/><rect x="1683.5" y="272.5" width="2" height="49" fill="#ff6464" stroke="#f00"/><path d="M1687.5 315V357" stroke="#f00"/><rect x="1686.5" y="316.5" width="2" height="39" fill="#ff6464" stroke="#f00"/><path d="M1689.5 334V404" stroke="#f00"/><rect x="1688.5" y="342.5" width="2" height="40" fill="#ff6464" stroke="#f00"/><path d="M1692.5 334V371" stroke="#000"/><rect x="1691.5" y="336.5" width="2" height="18" fill="#fff" stroke="#000"/><path d="M1694.5 314V347" stroke="#f00"/><rect x="1693.5" y="323.5" width="2" height="17" fill="#ff6464" stroke="#f00"/><path d="M1697.5 326V347" stroke="#000"/><rect x="1696.5" y="329.5" width="2" height="5" fill="#fff" stroke="#000"/><path d="M1699.5 318V352" stroke="#f00"/><rect x="1698.5" y="322.5" width="2" height="28" fill="#ff6464" stroke="#f00"/><path d="M1702.5 340V380" stroke="#f00"/><rect x="1701.5" y="344.5" width="2" height="30" fill="#ff6464" stroke="#f00"/><path d="M1704.5 349V376" stroke="#000"/><rect x="1703.5" y="356.5" width="2" height="10" fill="#fff" stroke="#000"/><path d="M1707.5 308V381" stroke="#000"/><rect x="1706.5" y="325.5" width="2" height="33" fill="#fff" stroke="#000"/><path d="M1709.5 324V341" stroke="#f00"/><rect x="1708.5" y="325.5" width="2" height="12" fill="#ff6464" stroke="#f00"/><path d="M1712.5 332V384" stroke="#f00"/><rect x="1711.5" y="332.5" width="2" height="48" fill="#ff6464" stroke="#f00"/><path d="M1714.5 373V408" stroke="#f00"/><rect x="1713.5" y="375.5" width="2" height="32" fill="#ff6464" stroke="#f00"/><path d="M1717.5 394V422" stroke="#f00"/><rect x="1716.5" y="399.5" width="2" height="16" fill="#ff6464" stroke="#f00"/><path d="M1719.5 381V432" stroke="#000"/><rect x="1718.5" y="386.5" width="2" height="21" fill="#fff" stroke="#000"/><path d="M1722.5 370V394" stroke="#f00"/><rect x="1721.5" y="376.5" width="2" height="13" fill="#ff6464" stroke="#f00"/><path d="M1724.5 383V393" stroke="#f00"/><rect x="1723.5" y="383.5" width="2" height="7" fill="#ff6464" stroke="#f00"/><path d="M1727.5 367V402" stroke="#f00"/><rect x="1726.5" y="375.5" width="2" height="23" fill="#ff6464" stroke="#f00"/><path d="M1729.5 394V437" stroke="#f00"/><rect x="1728.5" y="394.5" width="2" height="33" fill="#ff6464" stroke="#f00"/><path d="M1732.5 399V428" stroke="#000"/><rect x="1731.5" y="400.5" width="2" height="15" fill="#fff" stroke="#000"/><path d="M1734.5 380V403" stroke="#000"/><rect x="1733.5" y="395.5" width="2" height="4" fill="#fff" stroke="#000"/><path d="M1737.5 394V417" stroke="#f00"/><rect x="1736.5" y="396.5" width="2" height="17" fill="#ff6464" stroke="#f00"/><path d="M1739.5 403V432" stroke="#f00"/><rect x="1738.5" y="406.5" width="2" height="20" fill="#ff6464" stroke="#f00"/><path d="M1742.5 418V432" stroke="#f00"/><rect x="1741.5" y="419.5" width="2" height="8" fill="#ff6464" stroke="#f00"/><path d="M1744.5 405V433" stroke="#f00"/><rect x="1743.5" y="412.5" width="2" height="15" fill="#ff6464" stroke="#f00"/><path d="M1747.5 325V423" stroke="#000"/><rect x="1746.5" y="326.5" width="2" height="94" fill="#fff" stroke="#000"/><path d="M1748.5 294V325" stroke="#000"/><rect x="1747.5" y="305.5" width="2" height="15" fill="#fff" stroke="#000"/><path d="M1750.5 295V317" stroke="#000"/><rect x="1749.5" y="305.5" width="2" height="1" fill="#fff" stroke="#000"/><path d="M1751.5 278V309" stroke="#f00"/><rect x="1750.5" y="301.5" width="2" height="7" fill="#ff6464" stroke="#f00"/><path d="M1753.5 290V310" stroke="#f00"/><rect x="1752.5" y="291.5" width="2" height="18" fill="#ff6464" stroke="#f00"/></g>
<g shape-rendering="crispEdges"><path d="M231.4 235.6L1848 0.7" stroke="#8000ff" fill="none"/><path d="M231.3 831.3L1848 590.2" stroke="#8000ff" fill="none"/><path d="M1201.1 568.4L1675.8 472.3" stroke="#008000" fill="none"/><path d="M1201 689.4L1676 593.5" stroke="#008000" fill="none"/><path d="M1532.2 606.5L1735.7 130.2" stroke="#008000" fill="none"/><path d="M1532.4 783.3L1735.8 307.1" stroke="#008000" fill="none"/><path d="M849 145.5L1847 145.5" stroke="#f00" stroke-dasharray="3 3" fill="none"/><path d="M672 216.5L830 216.5" stroke="#f00" stroke-dasharray="3 3" fill="none"/><path d="M672.5 216L672.5 252" stroke="#f00" fill="none"/><path d="M830.5 216L830.5 252" stroke="#f00" fill="none"/><path d="M780 265.5L829 265.5" stroke="#f00" stroke-dasharray="3 3" fill="none"/><path d="M770.3 291L889.9 68" stroke="#ff5050" stroke-dasharray="2.5 3.5" fill="none"/><path d="M987 328.5L1734 328.5" stroke="#ff7070" stroke-dasharray="3 3" fill="none"/><path d="M1050 557.6L1568 519" stroke="#ff7070" stroke-dasharray="3 3" fill="none"/><path d="M248 827.5L1847 827.5" stroke="#00e000" stroke-dasharray="3 3" fill="none"/><path d="M709 595.5L1847 595.5" stroke="#00e000" stroke-dasharray="3 3" fill="none"/><path d="M772.8 457.5L941.5 457.5" stroke="#00e000" stroke-dasharray="3 3" fill="none"/><path d="M848 280.5L893 280.5" stroke="#00e000" stroke-dasharray="3 3" fill="none"/><path d="M770.4 512.7L797.8 462" stroke="#00e000" stroke-dasharray="2.5 3.5" fill="none"/><path d="M802.3 451.9L890 290" stroke="#00e000" stroke-dasharray="2.5 3.5" fill="none"/><path d="M1041.5 699.9L1571.4 659.6" stroke="#00e000" stroke-dasharray="3 3" fill="none"/></g>
<g font-family="Liberation Sans, Arial, sans-serif" font-size="12" stroke="#000" stroke-width="0.25"><text x="822" y="858.8" textLength="36" lengthAdjust="spacingAndGlyphs">80.000</text><text x="1191.5" y="883.5" textLength="36.5" lengthAdjust="spacingAndGlyphs">50.000</text><text x="1561" y="909.7" textLength="37" lengthAdjust="spacingAndGlyphs">20.000</text></g>
<g shape-rendering="crispEdges"><path d="M5 860.5H1853 M29 885.5H1853 M2 885.5H8 M5 911.5H1853" stroke="#000" fill="none"/><polyline points="21.1,899.4 24.3,897.9 25.1,900.2 28.2,913 32.9,911.2 37.6,901.8 41.5,884.5 45.4,881.4 48.5,868.1 50.9,873.6 54,898.6 57.1,916.2 60.3,911.2 62.6,903.3 65.8,893.9 68.9,897.1 72.3,908.3 75.9,904.9 79.8,895.5 83.8,884.5 86.9,859.5 90,851.7 92.4,850.4 94.7,864.2 97.9,893.9 101,907.2 104.9,901.8 108,889.2 112,864.2 113.5,862.9 115.9,876.7 119,897.1 122.1,909.6 125.3,912.2 127.6,895.5 130.7,870.5 133.1,858.7 136.2,859.2 139.3,859.2 141.7,862.6 144.8,883 148.8,903.3 151.9,915.1 155,911.2 158.1,903.3 162.8,895.5 168.3,890.5 170.7,891.1 173.8,903.3 176.9,911.2 177.7,915.1 178.5,906.5 180.8,904.9 184,895.5 186.3,897.1 190.2,889.2 191.8,883 193.4,861.4 196.5,861 198.8,861.8 202,857.9 205.9,853.2 208.2,854 212.2,861.8 215.3,861.8 216.9,853.2 219.2,852.1 222.3,852.9 227,849.8 231.7,848.8 234.9,851.7 238,859.5 240.3,868.9 242.7,890.8 245.8,910.4 249,910.4 252.1,904.1 256,903.3 258.4,911.2 261.5,914.3 264.6,909.6 267.8,903.3 270.9,889.2 273.2,878.3 275.6,873.6 277.9,879.1 281.1,873.6 283.4,856.4 285.3,853.5 288.1,865.8 290.8,874.4 295.5,870.5 299.4,861 301.7,850.1 304.1,848.2 306.4,857.9 311.1,872 314.3,878.3 316.6,890.8 319,891.6 320.5,893.9 322.1,875.1 324.4,866.5 327.3,861.8 329.1,870.5 331.5,879.1 333.8,868.9 336.2,859.5 338.5,856.4 341.7,858.7 344.8,859.5 347.9,872 351.9,892.4 354.2,894.2 357.3,881.4 360.9,878.3 363.6,892.4 367.8,908.3 369.9,898.6 373,873.6 375.6,863.9 378.5,872 381.6,886.1 383.6,893.1 386.3,883 388.3,859.5 390.2,849.3 393.3,848.5 397.2,847.3 400.1,845.4 402.7,849.3 406.6,861.8 409.8,857.9 412.4,855.6 415.3,862.6 418.4,890.8 422.3,904.1 424.7,889.2 426.2,876.4 427.8,875.1 430.1,886.1 433.3,913.8 436.4,911.9 440.3,898.6 444.2,880.6 446.1,879.5 448.1,895.5 450.5,903.3 452.8,890.8 455.7,881.4 458.3,880.1 460.7,883 462.7,886.9 464.6,879.8 467.7,861.8 469.6,859.5 471.6,867.3 474,872 477.1,862.6 479.5,861 481.8,873.6 484.9,889.2 487.6,898.6 490.4,881.4 493.1,854.8 495.9,850.9 499.8,850.4 502.2,851.7 504.5,855.6 506.9,851.7 510,859.5 512.3,871.2 515,875.1 517,866.5 519.1,861.8 521.7,871.2 526.4,890 529.6,875.1 532.4,862.3 535,867.3 538.6,887.7 542.1,870.5 544.4,854 546,849.3 547.6,854 550.7,851.7 553.8,855.6 557,865.8 559.3,872.3 561.7,859.5 563.2,857.1 564.3,863.4 567.1,868.9 570.3,878 571.8,871.2 575,867.3 578.1,851.7 580,848.5 583.1,850.9 587,851.3 591,853.2 594.9,859.5 597.2,881.4 600.4,901.8 603.5,908.8 606.6,907.2 609,886.1 611.3,865.8 613.7,852.4 616.8,857.1 620.7,865.8 623.1,883 625.4,909.6 627.3,915.1 629.3,895.5 631.7,870.5 634,847 636.4,845.4 638.7,848.5 641.1,853.2 643.4,857.1 645.8,850.1 648.1,848.5 649.7,859.5 652.3,868.9 654.7,879.8 657.5,867.3 659.9,859.5 662.2,847.7 664.5,847 667.7,848.8 671.6,851.7 674.7,859.5 677.9,878.3 680.2,897.1 682.6,908 685.7,904.9 689.6,895.5 693.5,884.5 695.9,871.2 697.4,868.9 699.8,879.8 702.1,893.9 704.5,897.9 707.6,906.5 710.7,915.9 712.8,919 714.7,913.5 718.6,893.9 721.7,878.3 724.8,864.2 727.2,861.8 729.5,868.9 731.9,887.7 734.2,909.6 736.6,916.6 738.9,919 741.3,911.2 743.6,887.7 746,870.5 748.3,859.5 750.7,854 753.8,851.7 756.9,848.5 760.1,846.6 762.4,850.1 765.5,853.2 767.9,862.6 771,871.7 773.4,871.2 774.9,868.9 777.3,872.8 779.6,869.7 782,854.8 784.3,848.5 786.7,853.2 789,868.9 790.6,886.1 792.9,901 795.3,899.4 798.4,895.5 801.6,900.2 804.7,904.1 807.8,901.8 811,901 813.3,884.5 814.9,862.6 816.4,848.5 817.7,845.7 819.6,849.3 823.5,852.4 826.6,855.6 829,856.4 832.1,861.8 834.4,861 836.8,868.1 839.1,863.4 842.3,859.5 844.6,854 847.8,854.8 850.9,856.4 853.2,861 854.8,876.7 857.1,898.6 860.3,911.9 862.6,904.9 865,894.7 867.3,887.7 870,868.9 872.4,867.3 874.7,876.7 877.8,889.2 881,903.3 884.1,911.2 887.2,903.3 890.4,892.4 892.7,881.4 894.6,867.6 896.6,867.3 898.2,878.3 899.8,897.1 901.6,914.3 903.7,910.4 906.8,911.9 909.1,913.5 911.5,908 914.6,898.6 917,896.3 920.1,900.2 923.2,908 926.4,912.7 929.5,903.3 932.6,887.7 935,867.3 937.3,854.8 939.2,850.1 941.2,859.5 943.6,867.3 946.7,881.4 949.9,900.2 952.5,918.2 954.5,904.9 956.9,887.7 959.2,873.6 961.1,868.1 963.2,875.1 965.5,887.7 967.9,898.6 970.2,902.5 972.6,900.2 974.9,883 976.9,859.5 978.8,850.1 981.2,847.7 984.3,849.3 987.4,854 990.6,856.4 993.7,864.2 996,886.1 998.4,915.1 1002.3,917.4 1005.4,909.6 1008.6,898.6 1010.5,891.1 1012.5,898.6 1014.8,900.2 1018,908.8 1021.1,907.2 1024.2,911.2 1027.8,920.5 1031.3,914.3 1034.4,908 1038.3,901.8 1040.7,896.3 1043,898.6 1046.9,897.1 1050.1,893.1 1052.4,898.6 1055.5,900.2 1057.9,904.9 1060.2,917.4 1064.2,918.2 1066.5,917.4 1068.8,920.5 1071.2,911.2 1073.5,895.5 1076.2,882.2 1077.5,892.4 1079.8,896.3 1082.2,883 1084.8,864.5 1086.9,873.6 1089.2,883 1091.1,886.9 1093.1,873.6 1095,854.8 1096.6,848.2 1098.6,850.9 1101,857.9 1104.1,861.8 1107.2,859.5 1109.6,865.8 1111.6,871.2 1114.3,864.2 1116.6,857.9 1118.5,852.4 1121.3,856.4 1123.7,864.2 1126,887.7 1128.3,903.3 1131.5,909.6 1134.6,908.8 1138.5,903.3 1141.7,887.7 1144.8,870.5 1147.5,861 1149.5,867.3 1151.8,887.7 1154.2,908 1156.5,920.5 1159.7,917.4 1160,917.4 1162.3,911.2 1165.5,904.9 1167.8,886.1 1170.2,875.1 1172.5,874.8 1174.9,883 1176.4,893.9 1178.8,898.6 1181.1,893.9 1183.2,881.4 1185.8,875.9 1188.2,872.8 1190.1,859.5 1192.1,854.8 1194.5,853.5 1197.6,855.6 1200.7,861 1203.1,872 1204.6,895.5 1208.5,908.3 1210.9,902.5 1214,906.5 1217.2,909.3 1219.5,904.9 1222.6,890.8 1225,872 1227.3,854.8 1229.7,851.7 1231.2,861 1233.6,864.2 1235.9,870.5 1238.3,865 1240.6,870.5 1242.2,890.8 1245.3,912.4 1247.7,907.2 1250,901.8 1252.4,901 1255.5,897.1 1257.9,890.8 1260.2,872 1261.8,859.5 1264.9,851.7 1268,846.2 1270.4,845.4 1273.5,849.3 1275.9,851.7 1279,854.8 1281.3,854 1283.7,870.5 1286.8,874.4 1289.2,870.5 1291.5,868.1 1294.7,876.7 1296.2,893.9 1298.6,909.3 1300.9,898.6 1302.5,876.7 1305.6,861 1306.4,865.8 1309.5,868.9 1311.9,883 1315,890.8 1318.1,903.3 1321.7,922.1 1323.6,917.4 1324.4,895.5 1326.8,881.4 1329.1,865.8 1330.7,859.5 1333,857.1 1335.4,854 1337.7,859.5 1340.1,868.9 1342.4,877.5 1344.8,868.9 1347.1,858.7 1349.5,858.7 1351.8,861 1354.2,863.4 1356.5,857.9 1357.6,852.1 1360.4,851.3 1362,862.6 1364.3,883 1366.7,908 1369,914.3 1372.2,909.6 1376.1,901.8 1379.7,883.3 1381.6,895.5 1384.7,913.5 1387.8,908 1391.7,895.5 1394.9,884.5 1397.2,881.4 1399.6,873.6 1402.7,868.9 1405.3,863.9 1407.4,876.7 1409.7,884.5 1412.9,893.9 1415.2,906.5 1417.6,916.2 1420.7,906.5 1423,884.5 1425.4,861 1428.1,855.6 1430.1,861 1432.4,863.4 1435.6,861.8 1437.9,864.2 1440.3,886.1 1443.1,900.2 1445,889.2 1447.3,887.4 1449.7,890 1450,890.8 1452.3,901.8 1455.5,911.9 1458.6,914.3 1461.7,907.2 1464.9,903.3 1467.2,909.6 1469.6,898.6 1471.9,886.1 1474.6,876.7 1476.6,884.5 1479,904.9 1482.1,910.4 1485.2,906.5 1488.4,906.5 1490.7,893.9 1493.1,890.8 1495.4,890.5 1497,901.8 1501.7,912.7 1504.8,904.9 1507.2,893.9 1509.2,870.5 1511.1,864.6 1513.4,876.7 1515.8,887.7 1518.4,901.8 1520.5,889.2 1522.8,879.8 1524.8,878.3 1526.7,887.7 1529.8,898.6 1532.2,911.2 1534.5,919 1537.7,909.6 1540.8,897.1 1543.2,875.1 1545.5,861 1547.4,858.7 1549.4,860.3 1552.6,857.6 1555.7,858.7 1558.8,857.6 1560.4,853.2 1562.4,851.7 1564.3,856.4 1566.7,860.3 1569,876.7 1572.4,889.2 1575.3,877.5 1578.4,871.2 1580,873.6 1582.3,875.9 1584.7,867.3 1587,855.6 1589.3,852.4 1591.7,861 1594,870.5 1597.2,883 1601.1,898.6 1604.2,887.7 1606.6,872 1608.5,865.8 1610.5,873.6 1612.5,872.8 1614.4,884.5 1616.8,896.3 1619.1,894.7 1620.7,878.3 1623,865.8 1626.2,863.4 1628.5,872 1631.6,884.5 1634.8,904.9 1637.6,919 1640.2,904.9 1643.4,890.8 1646.5,881.4 1648.8,865.8 1650.7,851.7 1652.3,847.3 1655.1,848.8 1659.8,847.7 1662.9,849.8 1666.9,850.9 1670,855.6 1671.6,855.6 1673.9,859.5 1675.5,855.6 1678.6,853.2 1681.4,850.4 1683.3,853.2 1684.9,864.2 1686.7,886.1 1688.8,901.8 1691.1,906.1 1693.5,897.1 1696.6,883 1699.3,873.6 1701.3,879.8 1703.7,895.5 1705.5,900.2 1707.6,887.7 1710.2,878.6 1712.3,883 1714.6,901.8 1717.4,918.2 1720.1,909.6 1723.2,893.9 1725.6,883.8 1727.5,881.4 1730.3,886.1 1733.4,893.1 1737.3,890 1739.7,897.1 1742.8,907.2 1744.4,909.6 1745.9,901.8 1747.2,887.7 1748.3,867.3 1749.2,860 1750.9,852.9 1752.8,850.4 1753.8,850.9" stroke="#000" fill="none" stroke-width="1"/><polyline points="27.2,899.9 28.2,901.8 29.2,904.5 30.2,907.5 31.2,909.9 32.2,911.5 33.2,912.1 34.2,911.9 35.2,911.1 36.2,910 37.2,908.6 38.2,906.9 39.2,904.7 40.2,902 41.2,898.9 42.2,895.2 43.2,891.5 44.2,888.2 45.2,885.6 46.2,883.7 47.2,882.1 48.2,880.2 49.2,877.6 50.2,875 51.2,872.9 52.2,872 53.2,873.6 54.2,877.6 55.2,883.5 56.2,890 57.2,897 58.2,903.6 59.2,908.5 60.2,911.4 61.2,912.9 62.2,912.7 63.2,910.8 64.2,908.2 65.2,905.4 66.2,902.4 67.2,899.4 68.2,897.4 69.2,896.2 70.2,895.8 71.2,896.7 72.2,898.7 73.2,901.1 74.2,903.4 75.2,905.3 76.2,906.3 77.2,906.4 78.2,905.5 79.2,903.9 80.2,902.1 81.2,899.9 82.2,897.4 83.2,894.9 84.2,892.2 85.2,889.2 86.2,885.2 87.2,880.1 88.2,874 89.2,868 90.2,862.3 91.2,857.7 92.2,854.6 93.2,852.9 94.2,852.4 95.2,853.5 96.2,856.5 97.2,861.5 98.2,868.5 99.2,876.6 100.2,884.4 101.2,891.7 102.2,897.9 103.2,901.9 104.2,903.9 105.2,904.7 106.2,904.4 107.2,902.4 108.2,899.9 109.2,896.9 110.2,892.9 111.2,888 112.2,882.6 113.2,876.7 114.2,871.5 115.2,868 116.2,867 117.2,868.5 118.2,872.5 119.2,877.9 120.2,884.2 121.2,890.1 122.2,895.6 123.2,900.6 124.2,904.5 125.2,907.3 126.2,909.5 127.2,909.9 128.2,908.1 129.2,904.5 130.2,899.1 131.2,892 132.2,884.4 133.2,877.3 134.2,870.6 135.2,865.5 136.2,862.1 137.2,860.1 138.2,859.1 139.2,859.1 140.2,859.1 141.2,859.4 142.2,859.8 143.2,860.9 144.2,863.3 145.2,867 146.2,871.7 147.2,877.2 148.2,883.2 149.2,888.8 150.2,894.2 151.2,899 152.2,903.5 153.2,907.7 154.2,910.5 155.2,912.2 156.2,912.8 157.2,912.2 158.2,910.4 159.2,908.4 160.2,906.3 161.2,904.1 162.2,902.1 163.2,900.3 164.2,898.6 165.2,897.1 166.2,895.8 167.2,894.6 168.2,893.5 169.2,892.6 170.2,891.9 171.2,891.3 172.2,891.3 173.2,892.2 174.2,894.1 175.2,896.7 176.2,899.8 177.2,903.1 178.2,906.1 179.2,908.5 180.2,908.9 181.2,908.8 182.2,907.9 183.2,905.9 184.2,903.2 185.2,901.1 186.2,899.2 187.2,897.7 188.2,896.5 189.2,895.6 190.2,894.8 191.2,893.5 192.2,891.4 193.2,888.3 194.2,882.9 195.2,876.8 196.2,871.1 197.2,866.1 198.2,862.3 199.2,861.3 200.2,861.3 201.2,861.2 202.2,860.8 203.2,860.1 204.2,859.2 205.2,857.9 206.2,856.7 207.2,855.5 208.2,854.7 209.2,854.1 210.2,854.1 211.2,854.8 212.2,856 213.2,857.6 214.2,859.2 215.2,860.4 216.2,861.3 217.2,861 218.2,859.3 219.2,857.5 220.2,855.6 221.2,853.7 222.2,852.6 223.2,852.5 224.2,852.5 225.2,852.4 226.2,852.2 227.2,851.7 228.2,851.1 229.2,850.6 230.2,850.1 231.2,849.7 232.2,849.4 233.2,849.2 234.2,849.3 235.2,849.6 236.2,850.2 237.2,851.3 238.2,852.9 239.2,854.8 240.2,857.3 241.2,860.4 242.2,864.5 243.2,870 244.2,876.6 245.2,883.7 246.2,891.3 247.2,898.3 248.2,903.5 249.2,907.1 250.2,909.3 251.2,909.9 252.2,909.1 253.2,907.9 254.2,906.6 255.2,905.3 256.2,904.4 257.2,903.8 258.2,904.2 259.2,905.4 260.2,907.1 261.2,908.9 262.2,911 263.2,912.4 264.2,912.8 265.2,912.5 266.2,911.7 267.2,910.3 268.2,908.6 269.2,906.6 270.2,904.1 271.2,901 272.2,897.3 273.2,893.2 274.2,888.6 275.2,884.4 276.2,880.7 277.2,877.9 278.2,876.5 279.2,876.4 280.2,876.5 281.2,876.6 282.2,876.4 283.2,874.4 284.2,870.4 285.2,866.1 286.2,861.8 287.2,858.4 288.2,857.3 289.2,858.5 290.2,861.1 291.2,864.7 292.2,868.2 293.2,870.7 294.2,872.1 295.2,872.7 296.2,872.5 297.2,871.5 298.2,870.2 299.2,868.6 300.2,866.6 301.2,864.1 302.2,861 303.2,857.6 304.2,854.5 305.2,851.8 306.2,850.6 307.2,851.1 308.2,853 309.2,855.7 310.2,859.2 311.2,862.5 312.2,865.6 313.2,868.4 314.2,871 315.2,873.5 316.2,876.2 317.2,879.4 318.2,882.8 319.2,885.9 320.2,888.7 321.2,890.9 322.2,891 323.2,888.1 324.2,884.2 325.2,879.6 326.2,874.1 327.2,869.2 328.2,866.4 329.2,865 330.2,865.4 331.2,867 332.2,869.6 333.2,872.5 334.2,874 335.2,873.7 336.2,871.8 337.2,868.4 338.2,864.7 339.2,861.6 340.2,859.3 341.2,858 342.2,857.6 343.2,857.6 344.2,858 345.2,858.6 346.2,859.1 347.2,860.3 348.2,862.2 349.2,864.9 350.2,868.6 351.2,873.1 352.2,877.8 353.2,882.6 354.2,886.8 355.2,890.1 356.2,891.8 357.2,891.5 358.2,889.6 359.2,887.1 360.2,884.3 361.2,881.9 362.2,880.3 363.2,880.5 364.2,882.2 365.2,885 366.2,888.7 367.2,893.3 368.2,897.5 369.2,901.2 370.2,902.9 371.2,902.9 372.2,900.5 373.2,895.7 374.2,888.9 375.2,882.4 376.2,876.1 377.2,871.2 378.2,868.5 379.2,867.9 380.2,868.8 381.2,871.3 382.2,875 383.2,879 384.2,883 385.2,886.5 386.2,888.3 387.2,888.4 388.2,885.9 389.2,880.4 390.2,873.2 391.2,865.7 392.2,858.7 393.2,853.5 394.2,850.6 395.2,849.1 396.2,848.6 397.2,848.3 398.2,848 399.2,847.6 400.2,847.2 401.2,846.7 402.2,846.5 403.2,846.7 404.2,847.3 405.2,848.8 406.2,851 407.2,853.6 408.2,856.3 409.2,858.2 410.2,859.4 411.2,859.6 412.2,859 413.2,857.9 414.2,857.3 415.2,857.4 416.2,858.2 417.2,860.7 418.2,865.2 419.2,871.3 420.2,877.9 421.2,884.8 422.2,890.9 423.2,895.8 424.2,898.3 425.2,898.4 426.2,896.5 427.2,892.2 428.2,886.7 429.2,882 430.2,879.5 431.2,879.3 432.2,882.4 433.2,887.7 434.2,894.8 435.2,901.3 436.2,906.8 437.2,910.5 438.2,911.9 439.2,910.9 440.2,908.9 441.2,906.3 442.2,902.9 443.2,899.1 444.2,895.1 445.2,890.8 446.2,886.9 447.2,883.7 448.2,882.8 449.2,884.5 450.2,887.8 451.2,892.1 452.2,896.3 453.2,898.1 454.2,897.2 455.2,895 456.2,891.3 457.2,887.5 458.2,884.6 459.2,882.6 460.2,881.4 461.2,881.1 462.2,881.6 463.2,882.5 464.2,883.6 465.2,883.8 466.2,882.9 467.2,880.5 468.2,876.6 469.2,871.7 470.2,867.3 471.2,864.1 472.2,862.7 473.2,863.1 474.2,864.9 475.2,867.2 476.2,868.8 477.2,869 478.2,868 479.2,866.4 480.2,864.2 481.2,863.2 482.2,863.9 483.2,866.2 484.2,869.7 485.2,874.4 486.2,879.5 487.2,884.2 488.2,888.6 489.2,891.9 490.2,893 491.2,891.9 492.2,888.5 493.2,882.3 494.2,874.2 495.2,866.9 496.2,860.5 497.2,855.5 498.2,852.6 499.2,851.6 500.2,851 501.2,850.6 502.2,850.7 503.2,850.9 504.2,851.3 505.2,852.2 506.2,853 507.2,853.4 508.2,853.5 509.2,853.8 510.2,854.3 511.2,855.2 512.2,857.5 513.2,861 514.2,864.6 515.2,867.9 516.2,871 517.2,872.3 518.2,871.7 519.2,870.1 520.2,867.8 521.2,865.8 522.2,865.4 523.2,866.5 524.2,868.9 525.2,872.5 526.2,876.4 527.2,880.3 528.2,883.3 529.2,884.6 530.2,884.1 531.2,881.8 532.2,877.9 533.2,873.2 534.2,869.4 535.2,866.9 536.2,865.7 537.2,866.6 538.2,869.4 539.2,873.6 540.2,877.7 541.2,880.4 542.2,881 543.2,879.5 544.2,875.5 545.2,869.8 546.2,864.1 547.2,858.7 548.2,855 549.2,852.9 550.2,852.1 551.2,852.1 552.2,852.6 553.2,852.8 554.2,853 555.2,853.6 556.2,855.1 557.2,857.2 558.2,859.7 559.2,862.5 560.2,865.6 561.2,867.4 562.2,867.5 563.2,866.2 564.2,863.9 565.2,861.9 566.2,861.2 567.2,861.9 568.2,863.8 569.2,866.6 570.2,869.1 571.2,871.6 572.2,873.3 573.2,873.7 574.2,873.4 575.2,872.3 576.2,870.3 577.2,867.7 578.2,865 579.2,861.4 580.2,857.8 581.2,854 582.2,851.5 583.2,850 584.2,849.8 585.2,849.9 586.2,850.4 587.2,850.8 588.2,851.1 589.2,851.3 590.2,851.5 591.2,851.9 592.2,852.3 593.2,853 594.2,853.9 595.2,855.1 596.2,856.7 597.2,860 598.2,864.9 599.2,870.9 600.2,877.9 601.2,885.7 602.2,892.3 603.2,897.5 604.2,901.8 605.2,904.9 606.2,906.6 607.2,907.5 608.2,907.1 609.2,904.6 610.2,900 611.2,893.8 612.2,886 613.2,877.6 614.2,869.9 615.2,863.3 616.2,858.8 617.2,856.3 618.2,855.4 619.2,856.1 620.2,857.9 621.2,859.9 622.2,862.3 623.2,865.8 624.2,870.4 625.2,876.7 626.2,884.8 627.2,893.5 628.2,901.3 629.2,906.5 630.2,907.5 631.2,904.1 632.2,897.4 633.2,888 634.2,877.7 635.2,867.5 636.2,859.1 637.2,852.7 638.2,848.5 639.2,846.6 640.2,847 641.2,847.9 642.2,849.4 643.2,851.1 644.2,852.9 645.2,854.2 646.2,854.4 647.2,853.8 648.2,852.7 649.2,851.1 650.2,851 651.2,852.6 652.2,855.5 653.2,859.2 654.2,863.8 655.2,868.2 656.2,871.8 657.2,873.7 658.2,874.1 659.2,872.9 660.2,870 661.2,866.1 662.2,862 663.2,857.8 664.2,854.2 665.2,851.2 666.2,848.9 667.2,847.7 668.2,847.6 669.2,847.9 670.2,848.5 671.2,849.1 672.2,849.8 673.2,850.7 674.2,851.9 675.2,853.4 676.2,855.6 677.2,858.7 678.2,862.8 679.2,867.7 680.2,873.6 681.2,880.5 682.2,887.2 683.2,893.7 684.2,899.3 685.2,903.1 686.2,905.2 687.2,905.9 688.2,905.1 689.2,903.5 690.2,901.6 691.2,899.3 692.2,896.8 693.2,894.2 694.2,891.5 695.2,888.5 696.2,884.9 697.2,880.8 698.2,876.9 699.2,874 700.2,872.9 701.2,873.9 702.2,877.1 703.2,881.8 704.2,886.6 705.2,890.8 706.2,894.4 707.2,897.4 708.2,899.7 709.2,902.2 710.2,904.9 711.2,907.7 712.2,910.6 713.2,913.2 714.2,915.3 715.2,916.3 716.2,915.9 717.2,914 718.2,910.8 719.2,906.5 720.2,901.8 721.2,896.8 722.2,891.8 723.2,886.8 724.2,881.9 725.2,877.2 726.2,872.6 727.2,868.9 728.2,865.9 729.2,864.3 730.2,864.1 731.2,865.9 732.2,869.4 733.2,874.7 734.2,881.5 735.2,889.5 736.2,897.4 737.2,904.2 738.2,909.9 739.2,913.9 740.2,916.1 741.2,916.8 742.2,916.3 743.2,913.6 744.2,908.8 745.2,902 746.2,894.4 747.2,886.1 748.2,878.5 749.2,871.9 750.2,866.5 751.2,862.1 752.2,858.8 753.2,856.2 754.2,854.5 755.2,853.2 756.2,852.2 757.2,851.3 758.2,850.4 759.2,849.6 760.2,848.7 761.2,848 762.2,847.7 763.2,847.9 764.2,848.4 765.2,849.3 766.2,850.5 767.2,851.9 768.2,853.8 769.2,856.3 770.2,859.1 771.2,862.3 772.2,865.6 773.2,868.1 774.2,869.8 775.2,870.7 776.2,870.7 777.2,870.5 778.2,870.7 779.2,870.8 780.2,870.9 781.2,870.5 782.2,868.6 783.2,865.1 784.2,861.1 785.2,856.9 786.2,853.4 787.2,851.6 788.2,851.7 789.2,853.7 790.2,857.6 791.2,863.5 792.2,870.9 793.2,878.8 794.2,886.6 795.2,892.9 796.2,896.9 797.2,898.9 798.2,899.3 799.2,898.3 800.2,897.6 801.2,897.2 802.2,897.4 803.2,898.1 804.2,899.3 805.2,900.6 806.2,901.8 807.2,902.6 808.2,902.9 809.2,902.9 810.2,902.5 811.2,902 812.2,901.5 813.2,899.7 814.2,896.7 815.2,891.4 816.2,883.4 817.2,873.7 818.2,864.5 819.2,856.4 820.2,851.1 821.2,848.8 822.2,848.4 823.2,849.2 824.2,850.3 825.2,851.3 826.2,852.1 827.2,853 828.2,853.9 829.2,854.7 830.2,855.4 831.2,856.3 832.2,857.3 833.2,858.4 834.2,859.5 835.2,860.5 836.2,861.4 837.2,862.6 838.2,863.8 839.2,864.6 840.2,865.1 841.2,865 842.2,864.1 843.2,862.5 844.2,860.9 845.2,859.3 846.2,857.6 847.2,856.3 848.2,855.3 849.2,854.7 850.2,854.7 851.2,855 852.2,855.5 853.2,856.3 854.2,857.4 855.2,860.1 856.2,864.6 857.2,870.9 858.2,878.7 859.2,887 860.2,894.6 861.2,901 862.2,905.3 863.2,907.2 864.2,907.4 865.2,905.9 866.2,902.7 867.2,899 868.2,895.4 869.2,891.3 870.2,886.7 871.2,881.6 872.2,876.9 873.2,872.7 874.2,870.1 875.2,869.7 876.2,871.5 877.2,874.2 878.2,877.9 879.2,881.9 880.2,886.1 881.2,890.3 882.2,894.6 883.2,898.6 884.2,902.3 885.2,905.5 886.2,907.5 887.2,908.1 888.2,907.7 889.2,906.1 890.2,903.4 891.2,900.3 892.2,896.9 893.2,893.1 894.2,888.8 895.2,883.7 896.2,878.5 897.2,874.1 898.2,871.2 899.2,870.8 900.2,874 901.2,880.4 902.2,888.6 903.2,897.3 904.2,904.2 905.2,908.7 906.2,911.1 907.2,911.7 908.2,911.4 909.2,911.6 910.2,912.2 911.2,912.3 912.2,911.8 913.2,910.7 914.2,908.8 915.2,906.2 916.2,903.6 917.2,901.2 918.2,899.2 919.2,898 920.2,897.6 921.2,898 922.2,899 923.2,900.8 924.2,902.7 925.2,904.8 926.2,906.9 927.2,908.9 928.2,910.1 929.2,910.1 930.2,909.3 931.2,907.3 932.2,904 933.2,900 934.2,895.4 935.2,889.5 936.2,882.8 937.2,876 938.2,869.2 939.2,862.9 940.2,857.9 941.2,855.2 942.2,854.5 943.2,855.6 944.2,858 945.2,861.7 946.2,865.7 947.2,869.7 948.2,873.9 949.2,878.6 950.2,883.8 951.2,889.3 952.2,895.3 953.2,901.6 954.2,906.8 955.2,909.5 956.2,909.6 957.2,906.8 958.2,901.3 959.2,894.5 960.2,887.8 961.2,881.8 962.2,876.6 963.2,873.4 964.2,872.1 965.2,873 966.2,875.8 967.2,880 968.2,884.7 969.2,889.6 970.2,893.8 971.2,897.2 972.2,899.6 973.2,900.8 974.2,900.4 975.2,898.3 976.2,894.2 977.2,887.9 978.2,879.6 979.2,871.1 980.2,863.1 981.2,856.5 982.2,852 983.2,849.8 984.2,848.7 985.2,848.6 986.2,848.8 987.2,849.6 988.2,850.7 989.2,851.8 990.2,853 991.2,854.2 992.2,855.3 993.2,856.6 994.2,858.2 995.2,860.5 996.2,864.6 997.2,870.3 998.2,877.9 999.2,887.5 1000.2,897.1 1001.2,905.1 1002.2,911.3 1003.2,915.1 1004.2,916.2 1005.2,915.8 1006.2,914.7 1007.2,912.9 1008.2,910.3 1009.2,907.3 1010.2,904 1011.2,900.4 1012.2,897.5 1013.2,896.1 1014.2,895.8 1015.2,896.3 1016.2,897.9 1017.2,899.9 1018.2,901.8 1019.2,903.7 1020.2,905.5 1021.2,906.9 1022.2,907.7 1023.2,908.1 1024.2,908.3 1025.2,908.8 1026.2,909.9 1027.2,911.6 1028.2,913.6 1029.2,915.7 1030.2,917.2 1031.2,917.9 1032.2,917.7 1033.2,916.6 1034.2,914.7 1035.2,912.8 1036.2,910.9 1037.2,909 1038.2,907.2 1039.2,905.5 1040.2,903.8 1041.2,901.9 1042.2,900.2 1043.2,898.9 1044.2,898.2 1045.2,897.8 1046.2,897.8 1047.2,897.9 1048.2,897.8 1049.2,897.2 1050.2,896.5 1051.2,895.6 1052.2,895.1 1053.2,895.3 1054.2,895.9 1055.2,896.9 1056.2,898.3 1057.2,899.4 1058.2,900.5 1059.2,901.8 1060.2,904.1 1061.2,907.3 1062.2,910.6 1063.2,913.6 1064.2,916.1 1065.2,917.5 1066.2,917.9 1067.2,917.9 1068.2,917.9 1069.2,918.2 1070.2,918.6 1071.2,918.2 1072.2,917.1 1073.2,914.6 1074.2,910.6 1075.2,905.2 1076.2,899.7 1077.2,893.9 1078.2,890.5 1079.2,889.3 1080.2,889.7 1081.2,891.1 1082.2,892.3 1083.2,891.4 1084.2,888.1 1085.2,883.2 1086.2,877.2 1087.2,873.3 1088.2,871.3 1089.2,871.5 1090.2,873.9 1091.2,877.8 1092.2,881.1 1093.2,882.5 1094.2,881.7 1095.2,878.3 1096.2,872.3 1097.2,865.1 1098.2,858.7 1099.2,853.8 1100.2,851.3 1101.2,851.3 1102.2,852.8 1103.2,854.9 1104.2,857 1105.2,858.9 1106.2,860.1 1107.2,860.6 1108.2,860.7 1109.2,860.9 1110.2,861.4 1111.2,862.6 1112.2,864.4 1113.2,866.5 1114.2,867.7 1115.2,867.8 1116.2,866.9 1117.2,864.9 1118.2,862.2 1119.2,859.5 1120.2,857.1 1121.2,855.6 1122.2,854.9 1123.2,855.2 1124.2,856.9 1125.2,859.8 1126.2,864.4 1127.2,870.7 1128.2,877.9 1129.2,885.7 1130.2,893.1 1131.2,898.9 1132.2,903 1133.2,906.1 1134.2,907.7 1135.2,908.6 1136.2,908.9 1137.2,908.6 1138.2,907.8 1139.2,906.7 1140.2,905.1 1141.2,902.7 1142.2,899.5 1143.2,895.6 1144.2,890.8 1145.2,885.6 1146.2,880.3 1147.2,875.4 1148.2,870.7 1149.2,867.2 1150.2,865.4 1151.2,865.8 1152.2,868.7 1153.2,873.9 1154.2,880.9 1155.2,889.1 1156.2,897.2 1157.2,904.6 1158.2,910.9 1159.2,915.1 1160.2,917.5 1161.2,918.5 1162.2,917.9 1163.2,916.3 1164.2,914.4 1165.2,912.4 1166.2,910.1 1167.2,907.3 1168.2,903.4 1169.2,898.5 1170.2,893.1 1171.2,887.1 1172.2,881.9 1173.2,878.4 1174.2,876.6 1175.2,876.5 1176.2,878 1177.2,881.2 1178.2,885.2 1179.2,889.4 1180.2,893 1181.2,895.5 1182.2,896.1 1183.2,894.9 1184.2,891.9 1185.2,888.2 1186.2,884.5 1187.2,880.8 1188.2,878 1189.2,876.1 1190.2,873.6 1191.2,870 1192.2,866.3 1193.2,862.5 1194.2,858.7 1195.2,856.1 1196.2,854.9 1197.2,854.3 1198.2,854.3 1199.2,854.7 1200.2,855.6 1201.2,856.8 1202.2,858.4 1203.2,860.7 1204.2,863.8 1205.2,869.4 1206.2,876.8 1207.2,884.3 1208.2,891.6 1209.2,898.6 1210.2,902.8 1211.2,904.4 1212.2,904.9 1213.2,905 1214.2,904.7 1215.2,904.6 1216.2,905.1 1217.2,906.2 1218.2,907.3 1219.2,907.8 1220.2,907.6 1221.2,906.7 1222.2,904.7 1223.2,901.6 1224.2,897.6 1225.2,892.4 1226.2,886.3 1227.2,879.5 1228.2,872.3 1229.2,865.5 1230.2,860 1231.2,856.4 1232.2,855.4 1233.2,856.3 1234.2,858.2 1235.2,860.8 1236.2,863.7 1237.2,865.8 1238.2,867 1239.2,867.4 1240.2,867.7 1241.2,867.9 1242.2,868.9 1243.2,872.9 1244.2,879 1245.2,886.4 1246.2,894.6 1247.2,901.8 1248.2,905.9 1249.2,907.9 1250.2,908.1 1251.2,906.4 1252.2,904.5 1253.2,903 1254.2,901.7 1255.2,900.7 1256.2,899.9 1257.2,898.7 1258.2,897.1 1259.2,895 1260.2,891.6 1261.2,886.8 1262.2,880.8 1263.2,873.9 1264.2,867.3 1265.2,861.7 1266.2,857.3 1267.2,854.1 1268.2,851.9 1269.2,849.9 1270.2,848.3 1271.2,847.1 1272.2,846.4 1273.2,846.2 1274.2,846.7 1275.2,847.5 1276.2,848.6 1277.2,849.7 1278.2,850.8 1279.2,851.8 1280.2,852.8 1281.2,853.5 1282.2,854 1283.2,855.1 1284.2,857.5 1285.2,860.7 1286.2,864.2 1287.2,868.1 1288.2,871.2 1289.2,872.5 1290.2,872.5 1291.2,872 1292.2,871.1 1293.2,870.2 1294.2,870.1 1295.2,870.9 1296.2,873.1 1297.2,877.7 1298.2,883.6 1299.2,890.3 1300.2,896.8 1301.2,901.2 1302.2,902.4 1303.2,899.3 1304.2,893 1305.2,885.4 1306.2,877.7 1307.2,870.8 1308.2,867.4 1309.2,866.1 1310.2,865.9 1311.2,867.4 1312.2,870.3 1313.2,873.7 1314.2,877.4 1315.2,881.3 1316.2,885.2 1317.2,888.6 1318.2,891.7 1319.2,895.1 1320.2,899 1321.2,903.4 1322.2,908.1 1323.2,912.7 1324.2,915.9 1325.2,915.7 1326.2,911.5 1327.2,905 1328.2,896.7 1329.2,887.5 1330.2,879.4 1331.2,873.5 1332.2,868.1 1333.2,863.8 1334.2,860.6 1335.2,858.5 1336.2,857 1337.2,856.2 1338.2,856.2 1339.2,856.9 1340.2,858.6 1341.2,861.4 1342.2,864.8 1343.2,868.4 1344.2,871.4 1345.2,872.8 1346.2,872.6 1347.2,870.9 1348.2,867.5 1349.2,864.2 1350.2,861.6 1351.2,859.9 1352.2,859.2 1353.2,859.6 1354.2,860.3 1355.2,861.2 1356.2,861.7 1357.2,861.4 1358.2,860.3 1359.2,858.2 1360.2,855.9 1361.2,853.9 1362.2,853.2 1363.2,854.7 1364.2,858.6 1365.2,864.3 1366.2,872 1367.2,881.1 1368.2,890.3 1369.2,898.3 1370.2,905.1 1371.2,909.7 1372.2,911.8 1373.2,912 1374.2,911.2 1375.2,909.6 1376.2,907.8 1377.2,905.9 1378.2,903.3 1379.2,900.1 1380.2,896.3 1381.2,892.6 1382.2,890.6 1383.2,890.8 1384.2,893.2 1385.2,897.7 1386.2,903.2 1387.2,907.1 1388.2,909.4 1389.2,910.1 1390.2,909.1 1391.2,906.7 1392.2,904 1393.2,901 1394.2,897.7 1395.2,894.4 1396.2,891.1 1397.2,888.1 1398.2,885.5 1399.2,883.1 1400.2,880.7 1401.2,878.4 1402.2,876.1 1403.2,873.7 1404.2,871.6 1405.2,869.8 1406.2,868.1 1407.2,867.4 1408.2,868.3 1409.2,870.4 1410.2,873.5 1411.2,877.7 1412.2,881.7 1413.2,885.2 1414.2,888.3 1415.2,891.9 1416.2,895.9 1417.2,900.2 1418.2,904.7 1419.2,908.7 1420.2,911.1 1421.2,911.7 1422.2,910.5 1423.2,906.6 1424.2,900.7 1425.2,893.3 1426.2,884.6 1427.2,875.8 1428.2,868.5 1429.2,862.7 1430.2,859.3 1431.2,858.4 1432.2,858.9 1433.2,859.9 1434.2,861.4 1435.2,862.3 1436.2,862.6 1437.2,862.6 1438.2,862.7 1439.2,863 1440.2,865.4 1441.2,869.7 1442.2,875.2 1443.2,881.5 1444.2,888.4 1445.2,892.5 1446.2,893.7 1447.2,893.4 1448.2,892 1449.2,889.7 1450.2,888.5 1451.2,888.8 1452.2,890.3 1453.2,892.8 1454.2,895.9 1455.2,899.5 1456.2,903.4 1457.2,906.8 1458.2,909.4 1459.2,911.3 1460.2,912.6 1461.2,912.8 1462.2,912.1 1463.2,910.8 1464.2,909.2 1465.2,907.4 1466.2,905.9 1467.2,905.4 1468.2,905.8 1469.2,905.9 1470.2,905.3 1471.2,903.8 1472.2,900.7 1473.2,896.1 1474.2,891.3 1475.2,886.8 1476.2,883.2 1477.2,881.5 1478.2,881.9 1479.2,884.7 1480.2,889.9 1481.2,895.6 1482.2,900.9 1483.2,905.4 1484.2,907.9 1485.2,908.5 1486.2,908.5 1487.2,908.1 1488.2,907.4 1489.2,906.8 1490.2,905.8 1491.2,904 1492.2,901.4 1493.2,898.6 1494.2,895.5 1495.2,893 1496.2,891.6 1497.2,891.8 1498.2,893.7 1499.2,896.4 1500.2,899.6 1501.2,903.2 1502.2,906.5 1503.2,908.5 1504.2,909.6 1505.2,909.6 1506.2,908.7 1507.2,906.3 1508.2,902.8 1509.2,897.8 1510.2,890.9 1511.2,883.7 1512.2,876.8 1513.2,871.8 1514.2,869.9 1515.2,871.3 1516.2,874.5 1517.2,879.3 1518.2,884.3 1519.2,889.3 1520.2,893 1521.2,894.6 1522.2,894.2 1523.2,892 1524.2,888 1525.2,884.2 1526.2,881.6 1527.2,881 1528.2,882.1 1529.2,884.6 1530.2,887.9 1531.2,892 1532.2,896.1 1533.2,900.4 1534.2,904.8 1535.2,909.1 1536.2,912.7 1537.2,914.7 1538.2,915 1539.2,913.9 1540.2,911.3 1541.2,907.8 1542.2,904 1543.2,898.8 1544.2,892.5 1545.2,885.7 1546.2,878.4 1547.2,871.4 1548.2,866.1 1549.2,862.6 1550.2,860.6 1551.2,859.7 1552.2,859.4 1553.2,859.2 1554.2,858.9 1555.2,858.5 1556.2,858.3 1557.2,858.2 1558.2,858.2 1559.2,858.3 1560.2,858.1 1561.2,857.2 1562.2,856.1 1563.2,854.8 1564.2,853.9 1565.2,853.6 1566.2,854.2 1567.2,855.5 1568.2,857.6 1569.2,860.9 1570.2,865.2 1571.2,869.7 1572.2,874.7 1573.2,879.7 1574.2,883.1 1575.2,884.3 1576.2,884 1577.2,882.4 1578.2,879.6 1579.2,876.7 1580.2,874.5 1581.2,873.6 1582.2,873.3 1583.2,873.6 1584.2,873.9 1585.2,873.4 1586.2,871.8 1587.2,869 1588.2,865 1589.2,861.2 1590.2,857.8 1591.2,855.6 1592.2,855.2 1593.2,856.5 1594.2,858.9 1595.2,862.4 1596.2,866.3 1597.2,870.2 1598.2,874.2 1599.2,878.2 1600.2,882.2 1601.2,886.2 1602.2,890.2 1603.2,892.9 1604.2,894 1605.2,893.7 1606.2,891.3 1607.2,886.9 1608.2,881.9 1609.2,877 1610.2,872.8 1611.2,870.7 1612.2,870.2 1613.2,870.6 1614.2,872.3 1615.2,875.2 1616.2,878.3 1617.2,882.1 1618.2,886.8 1619.2,890.7 1620.2,893.3 1621.2,892.8 1622.2,889.6 1623.2,884.6 1624.2,878.7 1625.2,872.8 1626.2,868.6 1627.2,866 1628.2,865 1629.2,865.9 1630.2,867.7 1631.2,870.4 1632.2,874.1 1633.2,878.2 1634.2,882.9 1635.2,888.1 1636.2,893.7 1637.2,899.5 1638.2,905.3 1639.2,910 1640.2,912.3 1641.2,912.3 1642.2,910.4 1643.2,906.6 1644.2,901.7 1645.2,897.2 1646.2,893.1 1647.2,889.4 1648.2,885.7 1649.2,881.4 1650.2,876.6 1651.2,870.8 1652.2,864.4 1653.2,858.4 1654.2,853.7 1655.2,850.4 1656.2,848.7 1657.2,848.3 1658.2,848.3 1659.2,848.4 1660.2,848.4 1661.2,848.2 1662.2,848.2 1663.2,848.3 1664.2,848.7 1665.2,849.1 1666.2,849.6 1667.2,850 1668.2,850.4 1669.2,850.9 1670.2,851.7 1671.2,852.8 1672.2,853.8 1673.2,854.8 1674.2,855.9 1675.2,856.9 1676.2,857.2 1677.2,857.1 1678.2,856.7 1679.2,855.8 1680.2,854.6 1681.2,853.6 1682.2,852.7 1683.2,852.1 1684.2,851.9 1685.2,853 1686.2,855.8 1687.2,861.1 1688.2,868.5 1689.2,877.1 1690.2,885.9 1691.2,893.5 1692.2,899.2 1693.2,902.1 1694.2,902.8 1695.2,901.3 1696.2,898.5 1697.2,894.5 1698.2,890.2 1699.2,886.1 1700.2,882 1701.2,879.1 1702.2,877.8 1703.2,878.4 1704.2,881 1705.2,885.4 1706.2,890 1707.2,893.6 1708.2,895 1709.2,894 1710.2,891.3 1711.2,887.4 1712.2,884 1713.2,882.2 1714.2,882.7 1715.2,885.5 1716.2,890.5 1717.2,896.4 1718.2,903.1 1719.2,908.6 1720.2,911.8 1721.2,913 1722.2,912 1723.2,908.9 1724.2,904.6 1725.2,900.1 1726.2,895.4 1727.2,891 1728.2,887.4 1729.2,884.9 1730.2,883.5 1731.2,883.4 1732.2,884.3 1733.2,885.9 1734.2,887.9 1735.2,889.7 1736.2,890.9 1737.2,891.6 1738.2,891.6 1739.2,891.6 1740.2,892.1 1741.2,893.3 1742.2,895.4 1743.2,898.3 1744.2,901.4 1745.2,904.1 1746.2,905.8 1747.2,905.7 1748.2,902.7 1749.2,895.7 1750.2,886.3 1751.8,868 1753.6,860.3" stroke="#f00" fill="none" stroke-width="1"/></g>
<g shape-rendering="crispEdges"><rect x="0" y="0" width="1854" height="1" fill="#000"/><rect x="0" y="0" width="1" height="948" fill="#000"/><rect x="0" y="947" width="1916" height="1" fill="#000"/><rect x="1915" y="0" width="1" height="839" fill="#000"/><rect x="1915" y="839" width="1" height="109" fill="#c0c0c0"/><rect x="1853" y="0" width="1" height="947" fill="#b0b0b0"/><rect x="1" y="839" width="1915" height="1" fill="#c0c0c0"/><rect x="1" y="932" width="1915" height="1" fill="#c0c0c0"/><path d="M1854 19.5h3M1854 55.5h3M1854 91.5h3M1854 126.5h3M1854 162.5h3M1854 198.5h3M1854 233.5h3M1854 269.5h3M1854 305.5h3M1854 340.5h3M1854 376.5h3M1854 412.5h3M1854 447.5h3M1854 483.5h3M1854 519.5h3M1854 554.5h3M1854 590.5h3M1854 626.5h3M1854 661.5h3M1854 697.5h3M1854 733.5h3M1854 768.5h3M1854 804.5h3M1854 864.5h3M1854 885.5h3M1854 906.5h3M1854 928.5h3" stroke="#b0b0b0" fill="none"/><path d="M103.5 932V947M163.5 932V947M221.5 932V947M278.5 932V947M336.5 932V947M398.5 932V947M457.5 932V947M515.5 932V947M575.5 932V947M634.5 932V947M693.5 932V947M753.5 932V947M813.5 932V947M871.5 932V947M931.5 932V947M990.5 932V947M1049.5 932V947M1107.5 932V947M1169.5 932V947M1227.5 932V947M1287.5 932V947M1346.5 932V947M1405.5 932V947M1463.5 932V947M1523.5 932V947M1583.5 932V947M1643.5 932V947M1701.5 932V947M1762.5 932V947M1822.5 932V947M1838.5 932V947" stroke="#b4b4b4" fill="none"/></g>
<g font-family="Liberation Sans, Arial, sans-serif"><text x="1859" y="23.6" font-size="12" fill="#000" stroke="#000" stroke-width="0.25" textLength="44" lengthAdjust="spacingAndGlyphs">5750.00</text><text x="1859" y="59.6" font-size="12" fill="#000" stroke="#000" stroke-width="0.25" textLength="44" lengthAdjust="spacingAndGlyphs">5500.00</text><text x="1859" y="95.6" font-size="12" fill="#000" stroke="#000" stroke-width="0.25" textLength="44" lengthAdjust="spacingAndGlyphs">5250.00</text><text x="1859" y="130.6" font-size="12" fill="#000" stroke="#000" stroke-width="0.25" textLength="44" lengthAdjust="spacingAndGlyphs">5000.00</text><text x="1859" y="166.6" font-size="12" fill="#000" stroke="#000" stroke-width="0.25" textLength="44" lengthAdjust="spacingAndGlyphs">4750.00</text><text x="1859" y="202.6" font-size="12" fill="#000" stroke="#000" stroke-width="0.25" textLength="44" lengthAdjust="spacingAndGlyphs">4500.00</text><text x="1859" y="237.6" font-size="12" fill="#000" stroke="#000" stroke-width="0.25" textLength="44" lengthAdjust="spacingAndGlyphs">4250.00</text><text x="1859" y="273.6" font-size="12" fill="#000" stroke="#000" stroke-width="0.25" textLength="44" lengthAdjust="spacingAndGlyphs">4000.00</text><text x="1859" y="344.6" font-size="12" fill="#000" stroke="#000" stroke-width="0.25" textLength="44" lengthAdjust="spacingAndGlyphs">3500.00</text><text x="1859" y="380.6" font-size="12" fill="#000" stroke="#000" stroke-width="0.25" textLength="44" lengthAdjust="spacingAndGlyphs">3250.00</text><text x="1859" y="416.6" font-size="12" fill="#000" stroke="#000" stroke-width="0.25" textLength="44" lengthAdjust="spacingAndGlyphs">3000.00</text><text x="1859" y="451.6" font-size="12" fill="#000" stroke="#000" stroke-width="0.25" textLength="44" lengthAdjust="spacingAndGlyphs">2750.00</text><text x="1859" y="487.6" font-size="12" fill="#000" stroke="#000" stroke-width="0.25" textLength="44" lengthAdjust="spacingAndGlyphs">2500.00</text><text x="1859" y="523.6" font-size="12" fill="#000" stroke="#000" stroke-width="0.25" textLength="44" lengthAdjust="spacingAndGlyphs">2250.00</text><text x="1859" y="558.6" font-size="12" fill="#000" stroke="#000" stroke-width="0.25" textLength="44" lengthAdjust="spacingAndGlyphs">2000.00</text><text x="1859" y="594.6" font-size="12" fill="#000" stroke="#000" stroke-width="0.25" textLength="44" lengthAdjust="spacingAndGlyphs">1750.00</text><text x="1859" y="630.6" font-size="12" fill="#000" stroke="#000" stroke-width="0.25" textLength="44" lengthAdjust="spacingAndGlyphs">1500.00</text><text x="1859" y="665.6" font-size="12" fill="#000" stroke="#000" stroke-width="0.25" textLength="44" lengthAdjust="spacingAndGlyphs">1250.00</text><text x="1859" y="701.6" font-size="12" fill="#000" stroke="#000" stroke-width="0.25" textLength="44" lengthAdjust="spacingAndGlyphs">1000.00</text><text x="1859" y="737.6" font-size="12" fill="#000" stroke="#000" stroke-width="0.25" textLength="37" lengthAdjust="spacingAndGlyphs">750.00</text><text x="1859" y="772.6" font-size="12" fill="#000" stroke="#000" stroke-width="0.25" textLength="37" lengthAdjust="spacingAndGlyphs">500.00</text><text x="1859" y="808.6" font-size="12" fill="#000" stroke="#000" stroke-width="0.25" textLength="37" lengthAdjust="spacingAndGlyphs">250.00</text><rect x="1855" y="1" width="60" height="16" fill="#fff"/><text x="1856.5" y="13.4" font-size="12" fill="#000" stroke="#000" stroke-width="0.25" textLength="55" lengthAdjust="spacingAndGlyphs">(c)Tai-Pan</text><rect x="1906.5" y="17.5" width="8" height="8" fill="#fff" stroke="#c0c0c0"/><path d="M1908 21.5h5" stroke="#aaa"/><rect x="1854" y="301" width="61" height="14" fill="#00f"/><path d="M1854 308.5h4" stroke="#fff"/><text x="1859" y="312.6" font-size="12" fill="#fff" stroke="#fff" stroke-width="0.25" textLength="44" lengthAdjust="spacingAndGlyphs">3727.55</text><rect x="1854" y="841" width="61" height="14" fill="#000"/><rect x="1854" y="856" width="61" height="14" fill="#f00"/><path d="M1854 847.5h3M1854 862.5h3" stroke="#fff"/><text x="1859" y="852.6" font-size="12" fill="#fff" stroke="#fff" stroke-width="0.25" textLength="31" lengthAdjust="spacingAndGlyphs">88.72</text><text x="1859" y="867.6" font-size="12" fill="#fff" stroke="#fff" stroke-width="0.25" textLength="31" lengthAdjust="spacingAndGlyphs">80.66</text><text x="1859" y="890.2" font-size="12" fill="#000" stroke="#000" stroke-width="0.25" textLength="31" lengthAdjust="spacingAndGlyphs">50.00</text><text x="1859" y="911.2" font-size="12" fill="#000" stroke="#000" stroke-width="0.25" textLength="38" lengthAdjust="spacingAndGlyphs">25.000</text><text x="102" y="944.6" font-size="12" fill="#000" stroke="#000" stroke-width="0.25" text-anchor="end">10</text><text x="106" y="944.6" font-size="12" fill="#000" stroke="#000" stroke-width="0.25">19</text><text x="162" y="944.6" font-size="12" fill="#000" stroke="#000" stroke-width="0.25" text-anchor="end">12</text><text x="166" y="944.6" font-size="12" fill="#000" stroke="#000" stroke-width="0.25">19</text><text x="220" y="944.6" font-size="12" fill="#000" stroke="#000" stroke-width="0.25" text-anchor="end">02</text><text x="224" y="944.6" font-size="12" fill="#000" stroke="#000" stroke-width="0.25">20</text><text x="277" y="944.6" font-size="12" fill="#000" stroke="#000" stroke-width="0.25" text-anchor="end">04</text><text x="281" y="944.6" font-size="12" fill="#000" stroke="#000" stroke-width="0.25">20</text><text x="335" y="944.6" font-size="12" fill="#000" stroke="#000" stroke-width="0.25" text-anchor="end">06</text><text x="339" y="944.6" font-size="12" fill="#000" stroke="#000" stroke-width="0.25">20</text><text x="397" y="944.6" font-size="12" fill="#000" stroke="#000" stroke-width="0.25" text-anchor="end">08</text><text x="401" y="944.6" font-size="12" fill="#000" stroke="#000" stroke-width="0.25">20</text><text x="456" y="944.6" font-size="12" fill="#000" stroke="#000" stroke-width="0.25" text-anchor="end">10</text><text x="460" y="944.6" font-size="12" fill="#000" stroke="#000" stroke-width="0.25">20</text><text x="514" y="944.6" font-size="12" fill="#000" stroke="#000" stroke-width="0.25" text-anchor="end">12</text><text x="518" y="944.6" font-size="12" fill="#000" stroke="#000" stroke-width="0.25">20</text><text x="574" y="944.6" font-size="12" fill="#000" stroke="#000" stroke-width="0.25" text-anchor="end">02</text><text x="578" y="944.6" font-size="12" fill="#000" stroke="#000" stroke-width="0.25">21</text><text x="633" y="944.6" font-size="12" fill="#000" stroke="#000" stroke-width="0.25" text-anchor="end">04</text><text x="637" y="944.6" font-size="12" fill="#000" stroke="#000" stroke-width="0.25">21</text><text x="692" y="944.6" font-size="12" fill="#000" stroke="#000" stroke-width="0.25" text-anchor="end">06</text><text x="696" y="944.6" font-size="12" fill="#000" stroke="#000" stroke-width="0.25">21</text><text x="752" y="944.6" font-size="12" fill="#000" stroke="#000" stroke-width="0.25" text-anchor="end">08</text><text x="756" y="944.6" font-size="12" fill="#000" stroke="#000" stroke-width="0.25">21</text><text x="812" y="944.6" font-size="12" fill="#000" stroke="#000" stroke-width="0.25" text-anchor="end">10</text><text x="816" y="944.6" font-size="12" fill="#000" stroke="#000" stroke-width="0.25">21</text><text x="870" y="944.6" font-size="12" fill="#000" stroke="#000" stroke-width="0.25" text-anchor="end">12</text><text x="874" y="944.6" font-size="12" fill="#000" stroke="#000" stroke-width="0.25">21</text><text x="930" y="944.6" font-size="12" fill="#000" stroke="#000" stroke-width="0.25" text-anchor="end">02</text><text x="934" y="944.6" font-size="12" fill="#000" stroke="#000" stroke-width="0.25">22</text><text x="989" y="944.6" font-size="12" fill="#000" stroke="#000" stroke-width="0.25" text-anchor="end">04</text><text x="993" y="944.6" font-size="12" fill="#000" stroke="#000" stroke-width="0.25">22</text><text x="1048" y="944.6" font-size="12" fill="#000" stroke="#000" stroke-width="0.25" text-anchor="end">06</text><text x="1052" y="944.6" font-size="12" fill="#000" stroke="#000" stroke-width="0.25">22</text><text x="1106" y="944.6" font-size="12" fill="#000" stroke="#000" stroke-width="0.25" text-anchor="end">08</text><text x="1110" y="944.6" font-size="12" fill="#000" stroke="#000" stroke-width="0.25">22</text><text x="1168" y="944.6" font-size="12" fill="#000" stroke="#000" stroke-width="0.25" text-anchor="end">10</text><text x="1172" y="944.6" font-size="12" fill="#000" stroke="#000" stroke-width="0.25">22</text><text x="1226" y="944.6" font-size="12" fill="#000" stroke="#000" stroke-width="0.25" text-anchor="end">12</text><text x="1230" y="944.6" font-size="12" fill="#000" stroke="#000" stroke-width="0.25">22</text><text x="1286" y="944.6" font-size="12" fill="#000" stroke="#000" stroke-width="0.25" text-anchor="end">02</text><text x="1290" y="944.6" font-size="12" fill="#000" stroke="#000" stroke-width="0.25">23</text><text x="1345" y="944.6" font-size="12" fill="#000" stroke="#000" stroke-width="0.25" text-anchor="end">04</text><text x="1349" y="944.6" font-size="12" fill="#000" stroke="#000" stroke-width="0.25">23</text><text x="1404" y="944.6" font-size="12" fill="#000" stroke="#000" stroke-width="0.25" text-anchor="end">06</text><text x="1408" y="944.6" font-size="12" fill="#000" stroke="#000" stroke-width="0.25">23</text><text x="1462" y="944.6" font-size="12" fill="#000" stroke="#000" stroke-width="0.25" text-anchor="end">08</text><text x="1466" y="944.6" font-size="12" fill="#000" stroke="#000" stroke-width="0.25">23</text><text x="1522" y="944.6" font-size="12" fill="#000" stroke="#000" stroke-width="0.25" text-anchor="end">10</text><text x="1526" y="944.6" font-size="12" fill="#000" stroke="#000" stroke-width="0.25">23</text><text x="1582" y="944.6" font-size="12" fill="#000" stroke="#000" stroke-width="0.25" text-anchor="end">12</text><text x="1586" y="944.6" font-size="12" fill="#000" stroke="#000" stroke-width="0.25">23</text><text x="1642" y="944.6" font-size="12" fill="#000" stroke="#000" stroke-width="0.25" text-anchor="end">02</text><text x="1646" y="944.6" font-size="12" fill="#000" stroke="#000" stroke-width="0.25">24</text><text x="1700" y="944.6" font-size="12" fill="#000" stroke="#000" stroke-width="0.25" text-anchor="end">04</text><text x="1704" y="944.6" font-size="12" fill="#000" stroke="#000" stroke-width="0.25">24</text><text x="1761" y="944.6" font-size="12" fill="#000" stroke="#000" stroke-width="0.25" text-anchor="end">06</text><text x="1765" y="944.6" font-size="12" fill="#000" stroke="#000" stroke-width="0.25">24</text><text x="1821" y="944.6" font-size="12" fill="#000" stroke="#000" stroke-width="0.25" text-anchor="end">08</text><text x="1825" y="944.6" font-size="12" fill="#000" stroke="#000" stroke-width="0.25">24</text><text x="1843" y="944.6" font-size="12" fill="#000" stroke="#000" stroke-width="0.25">-</text><text x="1859" y="944.6" font-size="12" fill="#000" stroke="#000" stroke-width="0.25" textLength="51" lengthAdjust="spacingAndGlyphs">24.05.24</text><rect x="86" y="4" width="157" height="15" fill="#fff"/><text x="88.5" y="16.6" font-size="13.5" fill="#000" stroke="#000" stroke-width="0.25" textLength="151.5" lengthAdjust="spacingAndGlyphs" font-weight="bold">ETHEREUM (ETH) USD</text><rect x="546" y="4" width="1108" height="14" fill="#fff"/><text x="548" y="14.8" font-size="13.3" font-family="Liberation Serif, Times New Roman, serif" stroke="#000" stroke-width="0.3" textLength="1104" lengthAdjust="spacingAndGlyphs">Haftungsausschluss für Inhalte: Alle Trendkanäle bzw. andere Linien, oder Grafiken hier sind keine Empfehlungen, oder Beratung, sondern die zeigen lediglich meine eigene Einschätzung. Alle Chartdaten sind ohne Gewähr.  www.wikifolio.com/de/de/p/cyberwaehrungen</text><text x="729.5" y="214.8" font-size="12" fill="#00808f" stroke="#00808f" stroke-width="0.25" textLength="127.3" lengthAdjust="spacingAndGlyphs">Durchbruch nach oben!</text><text x="720.6" y="261.6" font-size="12" fill="#00808f" stroke="#00808f" stroke-width="0.25" textLength="127.3" lengthAdjust="spacingAndGlyphs">Durchbruch nach oben!</text><rect x="5.5" y="844.5" width="47" height="13" fill="#fff" stroke="#000"/><text x="8" y="855.5" font-size="12" fill="#000" stroke="#000" stroke-width="0.25" textLength="42" lengthAdjust="spacingAndGlyphs">Sto(9/5)</text><rect x="55.5" y="845.5" width="12" height="12" fill="#fff" stroke="#000"/><path d="M57 851.5h9M61.5 847v9" stroke="#000" stroke-width="2"/><rect x="7" y="859" width="22" height="28" fill="#fff"/><text x="8.5" y="871.3" font-size="12" fill="#000" stroke="#000" stroke-width="0.25">%K</text><text x="8.5" y="885.7" font-size="12" fill="#f00" stroke="#f00" stroke-width="0.25">%D</text><path d="M1750 1h7.5l-3.75 4z" fill="#22bb22"/></g></svg></body></html>
